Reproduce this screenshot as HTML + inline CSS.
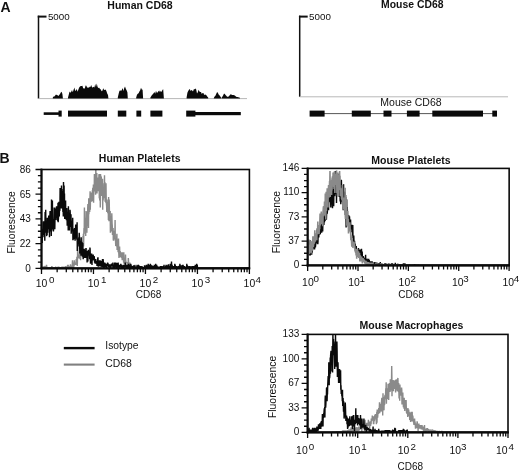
<!DOCTYPE html>
<html><head><meta charset="utf-8"><title>CD68 figure</title>
<style>
html,body{margin:0;padding:0;background:#fff;}
body{width:520px;height:470px;overflow:hidden;}
svg{display:block;}
svg text{font-family:"Liberation Sans", Arial, sans-serif;fill:#111;}
</style></head><body>
<svg width="520" height="470" viewBox="0 0 520 470">
<rect width="520" height="470" fill="#fff"/>
<text x="0.6" y="11.6" font-size="14" font-weight="bold" text-anchor="start">A</text>
<text x="140" y="9.3" font-size="10.5" font-weight="bold" text-anchor="middle">Human CD68</text>
<text x="412.3" y="8" font-size="10.4" font-weight="bold" text-anchor="middle">Mouse CD68</text>
<path d="M38.5 15.7V98.6" fill="none" stroke="#111" stroke-width="1.5"/>
<path d="M37.75 16.6H46.5" fill="none" stroke="#111" stroke-width="2"/>
<line x1="38.5" y1="98.6" x2="247" y2="98.6" stroke="#b8b8b8" stroke-width="1"/>
<text x="47.9" y="19.9" font-size="9.8" text-anchor="start">5000</text>
<path d="M299.7 15.7V96.8" fill="none" stroke="#111" stroke-width="1.5"/>
<path d="M298.95 16.6H307.7" fill="none" stroke="#111" stroke-width="2"/>
<line x1="299.7" y1="96.8" x2="508" y2="96.8" stroke="#b8b8b8" stroke-width="1"/>
<text x="309.09999999999997" y="19.9" font-size="9.8" text-anchor="start">5000</text>
<path d="M52.8 98.6 L52.8 97.4 L53.6 96.6 L54.4 96.5 L55.2 95.6 L56.0 94.6 L56.8 95.0 L57.6 95.2 L58.4 95.9 L59.2 95.1 L60.0 93.9 L60.8 92.4 L61.6 91.8 L62.4 94.1 L62.9 98.6Z" fill="#0a0a0a"/>
<path d="M68.0 98.6 L68.0 97.6 L68.8 94.6 L69.6 91.6 L70.4 92.7 L71.2 91.8 L72.0 90.1 L72.8 92.3 L73.6 89.7 L74.4 87.6 L75.2 90.9 L76.0 90.2 L76.8 89.0 L77.6 91.7 L78.4 89.5 L79.2 87.6 L80.0 86.6 L80.8 86.0 L81.6 86.1 L82.4 85.7 L83.2 88.2 L84.0 88.5 L84.8 88.4 L85.6 85.5 L86.4 85.7 L87.2 88.1 L88.0 87.0 L88.8 88.1 L89.6 86.8 L90.4 87.0 L91.2 85.1 L92.0 87.2 L92.8 87.4 L93.6 86.8 L94.4 87.4 L95.2 84.0 L96.0 87.0 L96.8 83.4 L97.6 86.9 L98.4 88.1 L99.2 87.8 L100.0 88.9 L100.8 89.5 L101.6 91.3 L102.4 90.8 L103.2 88.2 L104.0 89.8 L104.8 89.9 L105.6 89.6 L106.4 91.0 L107.2 93.4 L108.0 94.9 L108.4 98.6Z" fill="#0a0a0a"/>
<path d="M117.8 98.6 L117.8 97.4 L118.6 94.0 L119.4 90.9 L120.2 90.2 L121.0 90.9 L121.8 90.0 L122.6 88.0 L123.4 90.9 L124.2 88.2 L125.0 86.6 L125.8 88.7 L126.6 90.3 L127.4 92.2 L127.8 98.6Z" fill="#0a0a0a"/>
<path d="M136.2 98.6 L136.2 97.5 L137.0 94.7 L137.8 93.8 L138.6 93.2 L139.4 91.5 L140.2 90.3 L141.0 87.8 L141.8 89.4 L142.6 89.8 L143.1 98.6Z" fill="#0a0a0a"/>
<path d="M150.4 98.6 L150.4 97.6 L151.2 96.3 L152.0 94.9 L152.8 94.3 L153.6 93.2 L154.4 92.1 L155.2 93.7 L156.0 90.8 L156.8 92.7 L157.6 92.4 L158.4 91.2 L159.2 90.5 L160.0 92.2 L160.8 90.8 L161.6 92.0 L162.4 90.1 L163.2 89.3 L163.9 98.6Z" fill="#0a0a0a"/>
<path d="M186.6 98.6 L186.6 97.4 L187.4 92.7 L188.2 91.0 L189.0 89.8 L189.8 88.9 L190.6 91.0 L191.4 90.1 L192.2 90.4 L193.0 91.4 L193.8 89.3 L194.6 89.3 L195.4 88.6 L196.2 89.6 L197.0 93.4 L197.8 92.2 L198.6 89.8 L199.4 91.6 L200.2 92.0 L201.0 91.9 L201.8 93.9 L202.6 92.9 L203.4 93.0 L204.2 94.9 L205.0 94.6 L205.8 94.8 L206.6 95.4 L207.4 96.8 L208.2 97.5 L208.2 98.6Z" fill="#0a0a0a"/>
<path d="M213.8 98.6 L213.8 97.9 L214.6 96.6 L215.4 95.7 L216.2 94.1 L217.0 92.2 L217.8 92.4 L218.6 94.5 L219.4 95.3 L220.2 96.3 L221.0 97.4 L221.0 98.6Z" fill="#0a0a0a"/>
<path d="M221.5 98.6 L221.5 97.8 L222.3 96.7 L223.1 95.4 L223.9 93.7 L224.7 93.7 L225.5 95.0 L226.3 95.8 L227.1 96.7 L227.9 96.8 L228.7 96.4 L229.5 95.5 L230.3 94.6 L231.1 94.3 L231.9 94.9 L232.7 94.9 L233.5 95.1 L234.3 95.2 L235.1 95.7 L235.9 96.5 L236.7 96.9 L237.5 96.9 L238.3 97.2 L239.1 97.5 L239.9 97.7 L240.0 98.6Z" fill="#0a0a0a"/>
<rect x="43.7" y="112.3" width="15.3" height="2.6" fill="#0a0a0a"/>
<rect x="58.5" y="110.6" width="3.2" height="6.0" fill="#0a0a0a"/>
<rect x="68" y="110.6" width="39.0" height="6.0" fill="#0a0a0a"/>
<rect x="117.8" y="110.6" width="8.5" height="6.0" fill="#0a0a0a"/>
<rect x="136.4" y="110.6" width="4.8" height="6.0" fill="#0a0a0a"/>
<rect x="150.4" y="110.6" width="12.0" height="6.0" fill="#0a0a0a"/>
<rect x="186.2" y="110.6" width="9.2" height="6.0" fill="#0a0a0a"/>
<rect x="195" y="112.0" width="45.8" height="3.2" fill="#0a0a0a"/>
<text x="411" y="105.6" font-size="10.5" text-anchor="middle">Mouse CD68</text>
<line x1="310" y1="113.6" x2="497" y2="113.6" stroke="#444" stroke-width="0.9"/>
<rect x="309.6" y="110.6" width="15.0" height="6.0" fill="#0a0a0a"/>
<rect x="351.8" y="110.6" width="19.0" height="6.0" fill="#0a0a0a"/>
<rect x="383.5" y="110.6" width="8.0" height="6.0" fill="#0a0a0a"/>
<rect x="406.9" y="110.6" width="12.7" height="6.0" fill="#0a0a0a"/>
<rect x="432.3" y="110.6" width="50.7" height="6.0" fill="#0a0a0a"/>
<rect x="492.3" y="110.6" width="4.7" height="6.0" fill="#0a0a0a"/>
<text x="-0.4" y="163.0" font-size="14" font-weight="bold" text-anchor="start">B</text>
<path d="M41.6 268.3 L41.8 268.3 L42.0 268.3 L42.2 268.3 L42.4 268.3 L42.6 267.2 L42.8 267.2 L43.0 268.3 L43.2 268.3 L43.4 267.2 L43.6 267.2 L43.8 267.2 L44.0 267.2 L44.2 266.0 L44.4 268.3 L44.6 267.2 L44.8 267.2 L45.1 266.0 L45.3 268.3 L45.5 268.3 L45.7 267.2 L45.9 267.2 L46.1 268.3 L46.3 267.2 L46.5 264.9 L46.7 266.0 L46.9 268.3 L47.1 268.3 L47.3 267.2 L47.5 268.3 L47.7 268.3 L47.9 268.3 L48.1 267.2 L48.3 268.3 L48.5 268.3 L48.7 268.3 L48.9 268.3 L49.1 268.3 L49.3 267.2 L49.5 268.3 L49.7 268.3 L49.9 267.2 L50.1 268.3 L50.3 267.2 L50.5 268.3 L50.7 267.2 L50.9 268.3 L51.1 268.3 L51.3 267.2 L51.5 268.3 L51.8 266.0 L52.0 267.2 L52.2 267.2 L52.4 268.3 L52.6 268.3 L52.8 267.2 L53.0 268.3 L53.2 267.2 L53.4 268.3 L53.6 268.3 L53.8 268.3 L54.0 268.3 L54.2 268.3 L54.4 268.3 L54.6 268.3 L54.8 267.2 L55.0 268.3 L55.2 268.3 L55.4 268.3 L55.6 267.2 L55.8 267.2 L56.0 268.3 L56.2 267.2 L56.4 268.3 L56.6 268.3 L56.8 268.3 L57.0 267.2 L57.2 268.3 L57.4 268.3 L57.6 267.2 L57.8 268.3 L58.0 267.2 L58.2 267.2 L58.5 267.2 L58.7 267.2 L58.9 267.2 L59.1 268.3 L59.3 267.2 L59.5 268.3 L59.7 268.3 L59.9 267.2 L60.1 268.3 L60.3 268.3 L60.5 267.2 L60.7 268.3 L60.9 267.2 L61.1 268.3 L61.3 268.3 L61.5 268.3 L61.7 268.3 L61.9 267.2 L62.1 267.2 L62.3 268.3 L62.5 267.2 L62.7 267.2 L62.9 268.3 L63.1 267.2 L63.3 267.2 L63.5 268.3 L63.7 268.3 L63.9 267.2 L64.1 268.3 L64.3 267.2 L64.5 268.3 L64.7 267.2 L64.9 267.2 L65.2 267.2 L65.4 267.2 L65.6 268.3 L65.8 266.0 L66.0 267.2 L66.2 267.2 L66.4 268.3 L66.6 268.3 L66.8 267.2 L67.0 267.2 L67.2 267.2 L67.4 268.3 L67.6 264.9 L67.8 267.2 L68.0 268.3 L68.2 264.9 L68.4 268.3 L68.6 268.3 L68.8 267.2 L69.0 266.0 L69.2 267.2 L69.4 267.2 L69.6 266.0 L69.8 267.2 L70.0 268.3 L70.2 266.0 L70.4 264.9 L70.6 264.9 L70.8 268.3 L71.0 267.2 L71.2 267.2 L71.4 267.2 L71.6 267.2 L71.9 266.0 L72.1 267.2 L72.3 264.9 L72.5 260.3 L72.7 264.9 L72.9 268.3 L73.1 266.0 L73.3 262.6 L73.5 263.7 L73.7 268.3 L73.9 263.7 L74.1 266.0 L74.3 260.3 L74.5 263.7 L74.7 264.9 L74.9 263.7 L75.1 263.7 L75.3 263.7 L75.5 263.7 L75.7 262.6 L75.9 264.9 L76.1 261.4 L76.3 259.1 L76.5 261.4 L76.7 262.6 L76.9 256.8 L77.1 262.6 L77.3 266.0 L77.5 258.0 L77.7 241.9 L77.9 256.8 L78.1 256.8 L78.3 255.7 L78.6 258.0 L78.8 254.5 L79.0 255.7 L79.2 258.0 L79.4 258.0 L79.6 252.2 L79.8 253.4 L80.0 252.2 L80.2 252.2 L80.4 258.0 L80.6 260.3 L80.8 245.3 L81.0 247.6 L81.2 245.3 L81.4 252.2 L81.6 246.5 L81.8 241.9 L82.0 244.2 L82.2 247.6 L82.4 240.7 L82.6 248.8 L82.8 246.5 L83.0 236.1 L83.2 245.3 L83.4 233.8 L83.6 246.5 L83.8 233.8 L84.0 228.1 L84.2 233.8 L84.4 207.4 L84.6 228.1 L84.8 226.9 L85.0 224.6 L85.3 217.8 L85.5 221.2 L85.7 236.1 L85.9 225.8 L86.1 210.9 L86.3 224.6 L86.5 228.1 L86.7 223.5 L86.9 232.7 L87.1 212.0 L87.3 218.9 L87.5 225.8 L87.7 208.6 L87.9 204.0 L88.1 213.2 L88.3 209.7 L88.5 228.1 L88.7 198.2 L88.9 214.3 L89.1 208.6 L89.3 202.8 L89.5 201.7 L89.7 212.0 L89.9 200.5 L90.1 191.3 L90.3 209.7 L90.5 197.1 L90.7 193.6 L90.9 198.2 L91.1 193.6 L91.3 192.5 L91.5 201.7 L91.7 200.5 L92.0 200.5 L92.2 200.5 L92.4 190.2 L92.6 191.3 L92.8 187.9 L93.0 192.5 L93.2 195.9 L93.4 184.4 L93.6 202.8 L93.8 187.9 L94.0 190.2 L94.2 191.3 L94.4 174.1 L94.6 182.1 L94.8 184.4 L95.0 182.1 L95.2 187.9 L95.4 187.9 L95.6 194.8 L95.8 169.5 L96.0 174.1 L96.2 190.2 L96.4 176.4 L96.6 179.8 L96.8 172.9 L97.0 193.6 L97.2 181.0 L97.4 190.2 L97.6 177.5 L97.8 181.0 L98.0 191.3 L98.2 177.5 L98.4 190.2 L98.7 186.7 L98.9 175.2 L99.1 174.1 L99.3 198.2 L99.5 194.8 L99.7 200.5 L99.9 185.6 L100.1 176.4 L100.3 207.4 L100.5 174.1 L100.7 176.4 L100.9 185.6 L101.1 189.0 L101.3 176.4 L101.5 195.9 L101.7 185.6 L101.9 178.7 L102.1 193.6 L102.3 189.0 L102.5 178.7 L102.7 209.7 L102.9 183.3 L103.1 200.5 L103.3 197.1 L103.5 189.0 L103.7 194.8 L103.9 192.5 L104.1 198.2 L104.3 192.5 L104.5 175.2 L104.7 197.1 L104.9 182.1 L105.1 201.7 L105.4 191.3 L105.6 192.5 L105.8 202.8 L106.0 183.3 L106.2 198.2 L106.4 204.0 L106.6 206.3 L106.8 212.0 L107.0 199.4 L107.2 210.9 L107.4 204.0 L107.6 207.4 L107.8 213.2 L108.0 210.9 L108.2 201.7 L108.4 220.0 L108.6 197.1 L108.8 209.7 L109.0 221.2 L109.2 199.4 L109.4 209.7 L109.6 213.2 L109.8 214.3 L110.0 217.8 L110.2 210.9 L110.4 232.7 L110.6 218.9 L110.8 216.6 L111.0 221.2 L111.2 224.6 L111.4 231.5 L111.6 222.3 L111.8 213.2 L112.1 223.5 L112.3 225.8 L112.5 235.0 L112.7 229.2 L112.9 231.5 L113.1 228.1 L113.3 239.6 L113.5 240.7 L113.7 231.5 L113.9 231.5 L114.1 233.8 L114.3 232.7 L114.5 233.8 L114.7 239.6 L114.9 230.4 L115.1 220.0 L115.3 240.7 L115.5 239.6 L115.7 245.3 L115.9 245.3 L116.1 241.9 L116.3 244.2 L116.5 246.5 L116.7 237.3 L116.9 233.8 L117.1 249.9 L117.3 244.2 L117.5 246.5 L117.7 240.7 L117.9 239.6 L118.1 252.2 L118.3 244.2 L118.5 238.4 L118.8 253.4 L119.0 258.0 L119.2 255.7 L119.4 251.1 L119.6 246.5 L119.8 254.5 L120.0 256.8 L120.2 251.1 L120.4 256.8 L120.6 252.2 L120.8 256.8 L121.0 256.8 L121.2 252.2 L121.4 255.7 L121.6 253.4 L121.8 258.0 L122.0 256.8 L122.2 260.3 L122.4 258.0 L122.6 252.2 L122.8 256.8 L123.0 256.8 L123.2 255.7 L123.4 256.8 L123.6 262.6 L123.8 252.2 L124.0 263.7 L124.2 260.3 L124.4 261.4 L124.6 258.0 L124.8 261.4 L125.0 263.7 L125.2 261.4 L125.5 254.5 L125.7 260.3 L125.9 261.4 L126.1 262.6 L126.3 262.6 L126.5 262.6 L126.7 262.6 L126.9 262.6 L127.1 262.6 L127.3 266.0 L127.5 263.7 L127.7 267.2 L127.9 262.6 L128.1 268.3 L128.3 258.0 L128.5 260.3 L128.7 264.9 L128.9 263.7 L129.1 263.7 L129.3 267.2 L129.5 263.7 L129.7 267.2 L129.9 262.6 L130.1 268.3 L130.3 267.2 L130.5 267.2 L130.7 264.9 L130.9 264.9 L131.1 266.0 L131.3 266.0 L131.5 266.0 L131.7 266.0 L131.9 267.2 L132.2 268.3 L132.4 267.2 L132.6 266.0 L132.8 267.2 L133.0 268.3 L133.2 266.0 L133.4 268.3 L133.6 268.3 L133.8 266.0 L134.0 266.0 L134.2 267.2 L134.4 268.3 L134.6 268.3 L134.8 264.9 L135.0 267.2 L135.2 268.3 L135.4 268.3 L135.6 266.0 L135.8 266.0 L136.0 268.3 L136.2 267.2 L136.4 264.9 L136.6 268.3 L136.8 266.0 L137.0 268.3 L137.2 267.2 L137.4 268.3 L137.6 268.3 L137.8 266.0 L138.0 264.9 L138.2 268.3 L138.4 268.3 L138.6 268.3 L138.9 268.3 L139.1 268.3 L139.3 268.3 L139.5 266.0 L139.7 268.3 L139.9 267.2 L140.1 268.3 L140.3 268.3 L140.5 267.2 L140.7 268.3 L140.9 268.3 L141.1 268.3 L141.3 268.3 L141.5 266.0 L141.7 268.3 L141.9 267.2 L142.1 268.3 L142.3 268.3 L142.5 268.3 L142.7 268.3 L142.9 268.3 L143.1 268.3 L143.3 267.2 L143.5 268.3 L143.7 268.3 L143.9 268.3 L144.1 268.3 L144.3 268.3 L144.5 268.3 L144.7 268.3 L144.9 268.3 L145.1 268.3 L145.3 268.3 L145.6 268.3 L145.8 268.3 L146.0 268.3 L146.2 268.3 L146.4 268.3 L146.6 268.3 L146.8 268.3 L147.0 267.2 L147.2 268.3 L147.4 268.3 L147.6 267.2 L147.8 268.3 L148.0 268.3 L148.2 268.3 L148.4 268.3 L148.6 268.3 L148.8 267.2 L149.0 268.3 L149.2 268.3 L149.4 268.3 L149.6 268.3 L149.8 268.3 L150.0 268.3 L150.2 268.3 L150.4 268.3 L150.6 268.3 L150.8 268.3 L151.0 268.3 L151.2 268.3 L151.4 268.3 L151.6 268.3 L151.8 268.3 L152.0 268.3 L152.3 268.3 L152.5 268.3 L152.7 268.3 L152.9 268.3 L153.1 268.3 L153.3 268.3 L153.5 268.3 L153.7 268.3 L153.9 268.3 L154.1 268.3 L154.3 268.3 L154.5 268.3 L154.7 268.3 L154.9 268.3 L155.1 268.3 L155.3 268.3 L155.5 268.3 L155.7 268.3 L155.9 268.3 L156.1 268.3 L156.3 268.3 L156.5 268.3 L156.7 268.3 L156.9 268.3 L157.1 268.3 L157.3 268.3 L157.5 268.3 L157.7 268.3 L157.9 268.3 L158.1 268.3 L158.3 268.3 L158.5 268.3 L158.7 268.3 L159.0 268.3 L159.2 268.3 L159.4 268.3 L159.6 268.3 L159.8 268.3 L160.0 268.3 L160.2 268.3 L160.4 268.3 L160.6 268.3 L160.8 268.3 L161.0 268.3 L161.2 268.3 L161.4 268.3 L161.6 268.3 L161.8 268.3 L162.0 268.3 L162.2 268.3 L162.4 268.3 L162.6 268.3 L162.8 268.3 L163.0 268.3 L163.2 268.3 L163.4 268.3 L163.6 268.3 L163.8 268.3 L164.0 268.3 L164.2 268.3 L164.4 268.3 L164.6 268.3 L164.8 268.3 L165.0 268.3 L165.2 268.3 L165.4 268.3 L165.7 268.3 L165.9 268.3 L166.1 268.3 L166.3 268.3 L166.5 268.3 L166.7 268.3 L166.9 268.3 L167.1 268.3 L167.3 268.3 L167.5 268.3 L167.7 268.3 L167.9 268.3 L168.1 268.3 L168.3 268.3 L168.5 268.3 L168.7 268.3 L168.9 268.3 L169.1 268.3 L169.3 268.3 L169.5 268.3 L169.7 268.3 L169.9 268.3 L170.1 268.3 L170.3 268.3 L170.5 268.3 L170.7 268.3 L170.9 268.3 L171.1 268.3 L171.3 268.3 L171.5 268.3 L171.7 268.3 L171.9 268.3 L172.1 268.3 L172.4 268.3 L172.6 268.3 L172.8 268.3 L173.0 268.3 L173.2 268.3 L173.4 268.3 L173.6 268.3 L173.8 268.3 L174.0 268.3 L174.2 268.3 L174.4 268.3 L174.6 268.3 L174.8 268.3 L175.0 268.3 L175.2 268.3 L175.4 268.3 L175.6 268.3 L175.8 268.3 L176.0 268.3 L176.2 268.3 L176.4 268.3 L176.6 268.3 L176.8 268.3 L177.0 268.3 L177.2 268.3 L177.4 268.3 L177.6 268.3 L177.8 268.3 L178.0 268.3 L178.2 268.3 L178.4 268.3 L178.6 268.3 L178.8 268.3 L179.1 268.3 L179.3 268.3 L179.5 268.3 L179.7 268.3 L179.9 268.3 L180.1 268.3 L180.3 268.3 L180.5 268.3 L180.7 268.3 L180.9 268.3 L181.1 268.3 L181.3 268.3 L181.5 268.3 L181.7 268.3 L181.9 268.3 L182.1 268.3 L182.3 268.3 L182.5 268.3 L182.7 268.3 L182.9 268.3 L183.1 268.3 L183.3 268.3 L183.5 268.3 L183.7 268.3 L183.9 268.3 L184.1 268.3 L184.3 268.3 L184.5 268.3 L184.7 268.3 L184.9 268.3 L185.1 268.3 L185.3 268.3 L185.5 268.3 L185.8 268.3 L186.0 268.3 L186.2 268.3 L186.4 268.3 L186.6 268.3 L186.8 268.3 L187.0 268.3 L187.2 268.3 L187.4 268.3 L187.6 268.3 L187.8 268.3 L188.0 268.3 L188.2 268.3 L188.4 268.3 L188.6 268.3 L188.8 268.3 L189.0 268.3 L189.2 268.3 L189.4 268.3 L189.6 268.3 L189.8 268.3 L190.0 268.3 L190.2 268.3 L190.4 268.3 L190.6 268.3 L190.8 268.3 L191.0 268.3 L191.2 268.3 L191.4 268.3 L191.6 268.3 L191.8 268.3 L192.0 268.3 L192.2 268.3 L192.5 268.3 L192.7 268.3 L192.9 268.3 L193.1 268.3 L193.3 268.3 L193.5 268.3 L193.7 268.3 L193.9 268.3 L194.1 268.3 L194.3 268.3 L194.5 268.3 L194.7 268.3 L194.9 268.3 L195.1 268.3 L195.3 268.3 L195.5 268.3 L195.7 268.3 L195.9 268.3 L196.1 268.3 L196.3 268.3 L196.5 268.3 L196.7 268.3 L196.9 268.3 L197.1 268.3 L197.3 268.3 L197.5 268.3 L197.7 268.3 L197.9 268.3 L198.1 268.3 L198.3 268.3 L198.5 268.3 L198.7 268.3 L198.9 268.3 L199.2 268.3 L199.4 268.3 L199.6 268.3 L199.8 268.3 L200.0 268.3 L200.2 268.3 L200.4 268.3 L200.6 268.3 L200.8 268.3 L201.0 268.3 L201.2 268.3 L201.4 268.3 L201.6 268.3 L201.8 268.3 L202.0 268.3 L202.2 268.3 L202.4 268.3 L202.6 268.3 L202.8 268.3 L203.0 268.3 L203.2 268.3 L203.4 268.3 L203.6 268.3 L203.8 268.3 L204.0 268.3 L204.2 268.3 L204.4 268.3 L204.6 268.3 L204.8 268.3 L205.0 268.3 L205.2 268.3 L205.4 268.3 L205.6 268.3 L205.9 268.3 L206.1 268.3 L206.3 268.3 L206.5 268.3 L206.7 268.3 L206.9 268.3 L207.1 268.3 L207.3 268.3 L207.5 268.3 L207.7 268.3 L207.9 268.3 L208.1 268.3 L208.3 268.3 L208.5 268.3 L208.7 268.3 L208.9 268.3 L209.1 268.3 L209.3 268.3 L209.5 268.3 L209.7 268.3 L209.9 268.3 L210.1 268.3 L210.3 268.3 L210.5 268.3 L210.7 268.3 L210.9 268.3 L211.1 268.3 L211.3 268.3 L211.5 268.3 L211.7 268.3 L211.9 268.3 L212.1 268.3 L212.3 268.3 L212.6 268.3 L212.8 268.3 L213.0 268.3 L213.2 268.3 L213.4 268.3 L213.6 268.3 L213.8 268.3 L214.0 268.3 L214.2 268.3 L214.4 268.3 L214.6 268.3 L214.8 268.3 L215.0 268.3 L215.2 268.3 L215.4 268.3 L215.6 268.3 L215.8 268.3 L216.0 268.3 L216.2 268.3 L216.4 268.3 L216.6 268.3 L216.8 268.3 L217.0 268.3 L217.2 268.3 L217.4 268.3 L217.6 268.3 L217.8 268.3 L218.0 268.3 L218.2 268.3 L218.4 268.3 L218.6 268.3 L218.8 268.3 L219.0 268.3 L219.3 268.3 L219.5 268.3 L219.7 268.3 L219.9 268.3 L220.1 268.3 L220.3 268.3 L220.5 268.3 L220.7 268.3 L220.9 268.3 L221.1 268.3 L221.3 268.3 L221.5 268.3 L221.7 268.3 L221.9 268.3 L222.1 268.3 L222.3 268.3 L222.5 268.3 L222.7 268.3 L222.9 268.3 L223.1 268.3 L223.3 268.3 L223.5 268.3 L223.7 268.3 L223.9 268.3 L224.1 268.3 L224.3 268.3 L224.5 268.3 L224.7 268.3 L224.9 268.3 L225.1 268.3 L225.3 268.3 L225.5 268.3 L225.7 268.3 L226.0 268.3 L226.2 268.3 L226.4 268.3 L226.6 268.3 L226.8 268.3 L227.0 268.3 L227.2 268.3 L227.4 268.3 L227.6 268.3 L227.8 268.3 L228.0 268.3 L228.2 268.3 L228.4 268.3 L228.6 268.3 L228.8 268.3 L229.0 268.3 L229.2 268.3 L229.4 268.3 L229.6 268.3 L229.8 268.3 L230.0 268.3 L230.2 268.3 L230.4 268.3 L230.6 268.3 L230.8 268.3 L231.0 268.3 L231.2 268.3 L231.4 268.3 L231.6 268.3 L231.8 268.3 L232.0 268.3 L232.2 268.3 L232.4 268.3 L232.7 268.3 L232.9 268.3 L233.1 268.3 L233.3 268.3 L233.5 268.3 L233.7 268.3 L233.9 268.3 L234.1 268.3 L234.3 268.3 L234.5 268.3 L234.7 268.3 L234.9 268.3 L235.1 268.3 L235.3 268.3 L235.5 268.3 L235.7 268.3 L235.9 268.3 L236.1 268.3 L236.3 268.3 L236.5 268.3 L236.7 268.3 L236.9 268.3 L237.1 268.3 L237.3 268.3 L237.5 268.3 L237.7 268.3 L237.9 268.3 L238.1 268.3 L238.3 268.3 L238.5 268.3 L238.7 268.3 L238.9 268.3 L239.1 268.3 L239.4 268.3 L239.6 268.3 L239.8 268.3 L240.0 268.3 L240.2 268.3 L240.4 268.3 L240.6 268.3 L240.8 268.3 L241.0 268.3 L241.2 268.3 L241.4 268.3 L241.6 268.3 L241.8 268.3 L242.0 268.3 L242.2 268.3 L242.4 268.3 L242.6 268.3 L242.8 268.3 L243.0 268.3 L243.2 268.3 L243.4 268.3 L243.6 268.3 L243.8 268.3 L244.0 268.3 L244.2 268.3 L244.4 268.3 L244.6 268.3 L244.8 268.3 L245.0 268.3 L245.2 268.3 L245.4 268.3 L245.6 268.3 L245.8 268.3 L246.1 268.3 L246.3 268.3 L246.5 268.3 L246.7 268.3 L246.9 268.3 L247.1 268.3 L247.3 268.3 L247.5 268.3 L247.7 268.3 L247.9 268.3 L248.1 268.3 L248.3 268.3 L248.5 268.3 L248.7 268.3 L248.9 268.3 L249.1 268.3 L249.3 268.3" fill="none" stroke="#8a8a8a" stroke-width="1.4" stroke-linejoin="miter" stroke-miterlimit="2"/>
<path d="M41.6 222.3 L41.8 222.3 L42.0 235.0 L42.2 243.0 L42.4 231.5 L42.6 229.2 L42.8 233.8 L43.0 237.3 L43.2 232.7 L43.4 235.0 L43.6 221.2 L43.8 231.5 L44.0 229.2 L44.2 228.1 L44.4 230.4 L44.6 225.8 L44.8 240.7 L45.1 212.0 L45.3 231.5 L45.5 222.3 L45.7 209.7 L45.9 224.6 L46.1 223.5 L46.3 232.7 L46.5 231.5 L46.7 236.1 L46.9 225.8 L47.1 235.0 L47.3 217.8 L47.5 230.4 L47.7 232.7 L47.9 222.3 L48.1 223.5 L48.3 229.2 L48.5 224.6 L48.7 215.5 L48.9 220.0 L49.1 216.6 L49.3 223.5 L49.5 237.3 L49.7 225.8 L49.9 216.6 L50.1 210.9 L50.3 231.5 L50.5 216.6 L50.7 224.6 L50.9 224.6 L51.1 217.8 L51.3 236.1 L51.5 199.4 L51.8 229.2 L52.0 208.6 L52.2 213.2 L52.4 200.5 L52.6 223.5 L52.8 218.9 L53.0 230.4 L53.2 228.1 L53.4 231.5 L53.6 229.2 L53.8 220.0 L54.0 221.2 L54.2 207.4 L54.4 215.5 L54.6 207.4 L54.8 229.2 L55.0 217.8 L55.2 208.6 L55.4 213.2 L55.6 209.7 L55.8 216.6 L56.0 220.0 L56.2 215.5 L56.4 207.4 L56.6 206.3 L56.8 210.9 L57.0 217.8 L57.2 213.2 L57.4 207.4 L57.6 221.2 L57.8 216.6 L58.0 202.8 L58.2 222.3 L58.5 216.6 L58.7 208.6 L58.9 201.7 L59.1 214.3 L59.3 216.6 L59.5 208.6 L59.7 206.3 L59.9 210.9 L60.1 187.9 L60.3 200.5 L60.5 208.6 L60.7 197.1 L60.9 199.4 L61.1 195.9 L61.3 195.9 L61.5 185.6 L61.7 208.6 L61.9 189.0 L62.1 202.8 L62.3 205.1 L62.5 191.3 L62.7 206.3 L62.9 212.0 L63.1 201.7 L63.3 216.6 L63.5 182.1 L63.7 190.2 L63.9 209.7 L64.1 185.6 L64.3 209.7 L64.5 193.6 L64.7 218.9 L64.9 212.0 L65.2 207.4 L65.4 207.4 L65.6 200.5 L65.8 218.9 L66.0 208.6 L66.2 218.9 L66.4 220.0 L66.6 208.6 L66.8 208.6 L67.0 214.3 L67.2 225.8 L67.4 218.9 L67.6 218.9 L67.8 223.5 L68.0 213.2 L68.2 230.4 L68.4 206.3 L68.6 216.6 L68.8 220.0 L69.0 217.8 L69.2 218.9 L69.4 230.4 L69.6 220.0 L69.8 221.2 L70.0 209.7 L70.2 212.0 L70.4 224.6 L70.6 223.5 L70.8 226.9 L71.0 214.3 L71.2 233.8 L71.4 228.1 L71.6 223.5 L71.9 225.8 L72.1 231.5 L72.3 225.8 L72.5 221.2 L72.7 217.8 L72.9 239.6 L73.1 239.6 L73.3 238.4 L73.5 230.4 L73.7 230.4 L73.9 233.8 L74.1 229.2 L74.3 232.7 L74.5 228.1 L74.7 238.4 L74.9 238.4 L75.1 240.7 L75.3 235.0 L75.5 229.2 L75.7 224.6 L75.9 238.4 L76.1 232.7 L76.3 226.9 L76.5 228.1 L76.7 236.1 L76.9 239.6 L77.1 222.3 L77.3 251.1 L77.5 239.6 L77.7 244.2 L77.9 238.4 L78.1 246.5 L78.3 239.6 L78.6 244.2 L78.8 237.3 L79.0 240.7 L79.2 232.7 L79.4 236.1 L79.6 239.6 L79.8 253.4 L80.0 247.6 L80.2 240.7 L80.4 241.9 L80.6 246.5 L80.8 248.8 L81.0 255.7 L81.2 237.3 L81.4 251.1 L81.6 241.9 L81.8 251.1 L82.0 241.9 L82.2 253.4 L82.4 256.8 L82.6 248.8 L82.8 243.0 L83.0 255.7 L83.2 259.1 L83.4 255.7 L83.6 258.0 L83.8 252.2 L84.0 253.4 L84.2 248.8 L84.4 254.5 L84.6 258.0 L84.8 254.5 L85.0 249.9 L85.3 258.0 L85.5 253.4 L85.7 253.4 L85.9 248.8 L86.1 248.8 L86.3 258.0 L86.5 251.1 L86.7 255.7 L86.9 253.4 L87.1 262.6 L87.3 256.8 L87.5 256.8 L87.7 251.1 L87.9 261.4 L88.1 252.2 L88.3 249.9 L88.5 253.4 L88.7 254.5 L88.9 252.2 L89.1 252.2 L89.3 254.5 L89.5 255.7 L89.7 259.1 L89.9 247.6 L90.1 248.8 L90.3 256.8 L90.5 263.7 L90.7 253.4 L90.9 261.4 L91.1 254.5 L91.3 255.7 L91.5 260.3 L91.7 253.4 L92.0 264.9 L92.2 255.7 L92.4 256.8 L92.6 256.8 L92.8 260.3 L93.0 259.1 L93.2 254.5 L93.4 258.0 L93.6 258.0 L93.8 260.3 L94.0 256.8 L94.2 256.8 L94.4 258.0 L94.6 262.6 L94.8 261.4 L95.0 260.3 L95.2 263.7 L95.4 261.4 L95.6 259.1 L95.8 261.4 L96.0 261.4 L96.2 263.7 L96.4 261.4 L96.6 262.6 L96.8 261.4 L97.0 266.0 L97.2 262.6 L97.4 262.6 L97.6 259.1 L97.8 258.0 L98.0 258.0 L98.2 266.0 L98.4 266.0 L98.7 266.0 L98.9 266.0 L99.1 263.7 L99.3 264.9 L99.5 260.3 L99.7 263.7 L99.9 266.0 L100.1 260.3 L100.3 266.0 L100.5 261.4 L100.7 261.4 L100.9 266.0 L101.1 266.0 L101.3 262.6 L101.5 261.4 L101.7 261.4 L101.9 266.0 L102.1 267.2 L102.3 266.0 L102.5 259.1 L102.7 262.6 L102.9 267.2 L103.1 259.1 L103.3 261.4 L103.5 263.7 L103.7 263.7 L103.9 268.3 L104.1 267.2 L104.3 263.7 L104.5 264.9 L104.7 262.6 L104.9 263.7 L105.1 263.7 L105.4 267.2 L105.6 266.0 L105.8 263.7 L106.0 266.0 L106.2 264.9 L106.4 267.2 L106.6 267.2 L106.8 266.0 L107.0 266.0 L107.2 264.9 L107.4 263.7 L107.6 262.6 L107.8 263.7 L108.0 263.7 L108.2 264.9 L108.4 264.9 L108.6 267.2 L108.8 266.0 L109.0 267.2 L109.2 266.0 L109.4 266.0 L109.6 264.9 L109.8 264.9 L110.0 268.3 L110.2 267.2 L110.4 267.2 L110.6 267.2 L110.8 266.0 L111.0 264.9 L111.2 266.0 L111.4 263.7 L111.6 264.9 L111.8 263.7 L112.1 266.0 L112.3 266.0 L112.5 266.0 L112.7 266.0 L112.9 262.6 L113.1 266.0 L113.3 268.3 L113.5 268.3 L113.7 266.0 L113.9 264.9 L114.1 267.2 L114.3 267.2 L114.5 264.9 L114.7 262.6 L114.9 267.2 L115.1 262.6 L115.3 264.9 L115.5 266.0 L115.7 267.2 L115.9 262.6 L116.1 267.2 L116.3 267.2 L116.5 268.3 L116.7 263.7 L116.9 263.7 L117.1 268.3 L117.3 267.2 L117.5 266.0 L117.7 264.9 L117.9 266.0 L118.1 262.6 L118.3 264.9 L118.5 266.0 L118.8 267.2 L119.0 268.3 L119.2 267.2 L119.4 266.0 L119.6 264.9 L119.8 267.2 L120.0 266.0 L120.2 266.0 L120.4 267.2 L120.6 266.0 L120.8 263.7 L121.0 266.0 L121.2 267.2 L121.4 267.2 L121.6 264.9 L121.8 268.3 L122.0 267.2 L122.2 268.3 L122.4 268.3 L122.6 266.0 L122.8 266.0 L123.0 268.3 L123.2 267.2 L123.4 266.0 L123.6 264.9 L123.8 268.3 L124.0 267.2 L124.2 266.0 L124.4 267.2 L124.6 266.0 L124.8 266.0 L125.0 267.2 L125.2 262.6 L125.5 264.9 L125.7 267.2 L125.9 264.9 L126.1 267.2 L126.3 267.2 L126.5 266.0 L126.7 266.0 L126.9 268.3 L127.1 267.2 L127.3 266.0 L127.5 264.9 L127.7 266.0 L127.9 267.2 L128.1 268.3 L128.3 268.3 L128.5 268.3 L128.7 263.7 L128.9 267.2 L129.1 267.2 L129.3 267.2 L129.5 267.2 L129.7 267.2 L129.9 264.9 L130.1 267.2 L130.3 267.2 L130.5 266.0 L130.7 263.7 L130.9 266.0 L131.1 266.0 L131.3 267.2 L131.5 267.2 L131.7 268.3 L131.9 267.2 L132.2 267.2 L132.4 267.2 L132.6 266.0 L132.8 268.3 L133.0 267.2 L133.2 267.2 L133.4 267.2 L133.6 268.3 L133.8 266.0 L134.0 266.0 L134.2 268.3 L134.4 266.0 L134.6 266.0 L134.8 268.3 L135.0 267.2 L135.2 267.2 L135.4 268.3 L135.6 268.3 L135.8 267.2 L136.0 268.3 L136.2 267.2 L136.4 267.2 L136.6 267.2 L136.8 268.3 L137.0 267.2 L137.2 266.0 L137.4 266.0 L137.6 268.3 L137.8 268.3 L138.0 266.0 L138.2 268.3 L138.4 264.9 L138.6 266.0 L138.9 266.0 L139.1 268.3 L139.3 267.2 L139.5 268.3 L139.7 266.0 L139.9 268.3 L140.1 268.3 L140.3 266.0 L140.5 267.2 L140.7 268.3 L140.9 267.2 L141.1 268.3 L141.3 267.2 L141.5 267.2 L141.7 268.3 L141.9 266.0 L142.1 267.2 L142.3 268.3 L142.5 267.2 L142.7 268.3 L142.9 268.3 L143.1 268.3 L143.3 267.2 L143.5 268.3 L143.7 267.2 L143.9 268.3 L144.1 268.3 L144.3 267.2 L144.5 266.0 L144.7 266.0 L144.9 268.3 L145.1 267.2 L145.3 267.2 L145.6 267.2 L145.8 267.2 L146.0 268.3 L146.2 266.0 L146.4 264.9 L146.6 267.2 L146.8 266.0 L147.0 266.0 L147.2 268.3 L147.4 267.2 L147.6 267.2 L147.8 268.3 L148.0 266.0 L148.2 263.7 L148.4 267.2 L148.6 267.2 L148.8 268.3 L149.0 266.0 L149.2 267.2 L149.4 268.3 L149.6 264.9 L149.8 267.2 L150.0 268.3 L150.2 267.2 L150.4 263.7 L150.6 268.3 L150.8 264.9 L151.0 267.2 L151.2 266.0 L151.4 268.3 L151.6 266.0 L151.8 266.0 L152.0 266.0 L152.3 267.2 L152.5 268.3 L152.7 268.3 L152.9 266.0 L153.1 267.2 L153.3 268.3 L153.5 268.3 L153.7 266.0 L153.9 268.3 L154.1 268.3 L154.3 264.9 L154.5 266.0 L154.7 264.9 L154.9 266.0 L155.1 268.3 L155.3 268.3 L155.5 267.2 L155.7 263.7 L155.9 268.3 L156.1 268.3 L156.3 266.0 L156.5 266.0 L156.7 264.9 L156.9 268.3 L157.1 266.0 L157.3 268.3 L157.5 267.2 L157.7 267.2 L157.9 267.2 L158.1 268.3 L158.3 268.3 L158.5 267.2 L158.7 267.2 L159.0 267.2 L159.2 267.2 L159.4 268.3 L159.6 267.2 L159.8 267.2 L160.0 268.3 L160.2 268.3 L160.4 268.3 L160.6 266.0 L160.8 268.3 L161.0 266.0 L161.2 267.2 L161.4 267.2 L161.6 266.0 L161.8 268.3 L162.0 267.2 L162.2 267.2 L162.4 268.3 L162.6 267.2 L162.8 268.3 L163.0 268.3 L163.2 266.0 L163.4 267.2 L163.6 266.0 L163.8 268.3 L164.0 264.9 L164.2 268.3 L164.4 268.3 L164.6 268.3 L164.8 268.3 L165.0 267.2 L165.2 267.2 L165.4 268.3 L165.7 266.0 L165.9 267.2 L166.1 264.9 L166.3 268.3 L166.5 268.3 L166.7 268.3 L166.9 266.0 L167.1 268.3 L167.3 267.2 L167.5 266.0 L167.7 266.0 L167.9 266.0 L168.1 268.3 L168.3 264.9 L168.5 264.9 L168.7 267.2 L168.9 268.3 L169.1 268.3 L169.3 266.0 L169.5 268.3 L169.7 268.3 L169.9 268.3 L170.1 268.3 L170.3 263.7 L170.5 268.3 L170.7 267.2 L170.9 266.0 L171.1 267.2 L171.3 267.2 L171.5 261.4 L171.7 267.2 L171.9 267.2 L172.1 264.9 L172.4 268.3 L172.6 266.0 L172.8 268.3 L173.0 268.3 L173.2 268.3 L173.4 266.0 L173.6 267.2 L173.8 267.2 L174.0 267.2 L174.2 267.2 L174.4 268.3 L174.6 267.2 L174.8 263.7 L175.0 268.3 L175.2 264.9 L175.4 267.2 L175.6 268.3 L175.8 268.3 L176.0 268.3 L176.2 268.3 L176.4 268.3 L176.6 266.0 L176.8 268.3 L177.0 268.3 L177.2 267.2 L177.4 267.2 L177.6 268.3 L177.8 267.2 L178.0 267.2 L178.2 268.3 L178.4 266.0 L178.6 267.2 L178.8 267.2 L179.1 266.0 L179.3 267.2 L179.5 267.2 L179.7 267.2 L179.9 263.7 L180.1 266.0 L180.3 266.0 L180.5 266.0 L180.7 268.3 L180.9 267.2 L181.1 267.2 L181.3 267.2 L181.5 266.0 L181.7 266.0 L181.9 268.3 L182.1 268.3 L182.3 267.2 L182.5 268.3 L182.7 264.9 L182.9 268.3 L183.1 264.9 L183.3 268.3 L183.5 268.3 L183.7 267.2 L183.9 267.2 L184.1 267.2 L184.3 266.0 L184.5 267.2 L184.7 267.2 L184.9 267.2 L185.1 268.3 L185.3 268.3 L185.5 267.2 L185.8 267.2 L186.0 267.2 L186.2 268.3 L186.4 268.3 L186.6 268.3 L186.8 263.7 L187.0 267.2 L187.2 266.0 L187.4 266.0 L187.6 267.2 L187.8 267.2 L188.0 267.2 L188.2 268.3 L188.4 267.2 L188.6 268.3 L188.8 268.3 L189.0 266.0 L189.2 268.3 L189.4 267.2 L189.6 267.2 L189.8 268.3 L190.0 266.0 L190.2 268.3 L190.4 267.2 L190.6 267.2 L190.8 268.3 L191.0 268.3 L191.2 267.2 L191.4 267.2 L191.6 268.3 L191.8 267.2 L192.0 266.0 L192.2 268.3 L192.5 268.3 L192.7 268.3 L192.9 268.3 L193.1 266.0 L193.3 267.2 L193.5 266.0 L193.7 268.3 L193.9 268.3 L194.1 268.3 L194.3 266.0 L194.5 267.2 L194.7 268.3 L194.9 267.2 L195.1 267.2 L195.3 264.9 L195.5 267.2 L195.7 268.3 L195.9 267.2 L196.1 267.2 L196.3 268.3 L196.5 267.2 L196.7 263.7 L196.9 267.2 L197.1 268.3 L197.3 264.9 L197.5 268.3 L197.7 268.3 L197.9 268.3 L198.1 268.3 L198.3 268.3 L198.5 268.3 L198.7 268.3 L198.9 268.3 L199.2 268.3 L199.4 268.3 L199.6 268.3 L199.8 268.3 L200.0 268.3 L200.2 268.3 L200.4 268.3 L200.6 268.3 L200.8 268.3 L201.0 268.3 L201.2 268.3 L201.4 268.3 L201.6 268.3 L201.8 268.3 L202.0 268.3 L202.2 268.3 L202.4 268.3 L202.6 268.3 L202.8 268.3 L203.0 268.3 L203.2 268.3 L203.4 268.3 L203.6 268.3 L203.8 268.3 L204.0 268.3 L204.2 268.3 L204.4 268.3 L204.6 268.3 L204.8 268.3 L205.0 268.3 L205.2 268.3 L205.4 268.3 L205.6 268.3 L205.9 268.3 L206.1 268.3 L206.3 268.3 L206.5 268.3 L206.7 268.3 L206.9 268.3 L207.1 268.3 L207.3 268.3 L207.5 268.3 L207.7 268.3 L207.9 268.3 L208.1 268.3 L208.3 268.3 L208.5 268.3 L208.7 268.3 L208.9 268.3 L209.1 268.3 L209.3 268.3 L209.5 268.3 L209.7 268.3 L209.9 268.3 L210.1 268.3 L210.3 268.3 L210.5 268.3 L210.7 268.3 L210.9 268.3 L211.1 268.3 L211.3 268.3 L211.5 268.3 L211.7 268.3 L211.9 268.3 L212.1 268.3 L212.3 268.3 L212.6 268.3 L212.8 268.3 L213.0 268.3 L213.2 268.3 L213.4 268.3 L213.6 268.3 L213.8 268.3 L214.0 268.3 L214.2 268.3 L214.4 268.3 L214.6 268.3 L214.8 268.3 L215.0 268.3 L215.2 268.3 L215.4 268.3 L215.6 268.3 L215.8 268.3 L216.0 268.3 L216.2 268.3 L216.4 268.3 L216.6 268.3 L216.8 268.3 L217.0 268.3 L217.2 268.3 L217.4 268.3 L217.6 268.3 L217.8 268.3 L218.0 268.3 L218.2 268.3 L218.4 268.3 L218.6 268.3 L218.8 268.3 L219.0 268.3 L219.3 268.3 L219.5 268.3 L219.7 268.3 L219.9 268.3 L220.1 268.3 L220.3 268.3 L220.5 268.3 L220.7 268.3 L220.9 268.3 L221.1 268.3 L221.3 268.3 L221.5 268.3 L221.7 268.3 L221.9 268.3 L222.1 268.3 L222.3 268.3 L222.5 268.3 L222.7 268.3 L222.9 268.3 L223.1 268.3 L223.3 268.3 L223.5 268.3 L223.7 268.3 L223.9 268.3 L224.1 268.3 L224.3 268.3 L224.5 268.3 L224.7 268.3 L224.9 268.3 L225.1 268.3 L225.3 268.3 L225.5 268.3 L225.7 268.3 L226.0 268.3 L226.2 268.3 L226.4 268.3 L226.6 268.3 L226.8 268.3 L227.0 268.3 L227.2 268.3 L227.4 268.3 L227.6 268.3 L227.8 268.3 L228.0 268.3 L228.2 268.3 L228.4 268.3 L228.6 268.3 L228.8 268.3 L229.0 268.3 L229.2 268.3 L229.4 268.3 L229.6 268.3 L229.8 268.3 L230.0 268.3 L230.2 268.3 L230.4 268.3 L230.6 268.3 L230.8 268.3 L231.0 268.3 L231.2 268.3 L231.4 268.3 L231.6 268.3 L231.8 268.3 L232.0 268.3 L232.2 268.3 L232.4 268.3 L232.7 268.3 L232.9 268.3 L233.1 268.3 L233.3 268.3 L233.5 268.3 L233.7 268.3 L233.9 268.3 L234.1 268.3 L234.3 268.3 L234.5 268.3 L234.7 268.3 L234.9 268.3 L235.1 268.3 L235.3 268.3 L235.5 268.3 L235.7 268.3 L235.9 268.3 L236.1 268.3 L236.3 268.3 L236.5 268.3 L236.7 268.3 L236.9 268.3 L237.1 268.3 L237.3 268.3 L237.5 268.3 L237.7 268.3 L237.9 268.3 L238.1 268.3 L238.3 268.3 L238.5 268.3 L238.7 268.3 L238.9 268.3 L239.1 268.3 L239.4 268.3 L239.6 268.3 L239.8 268.3 L240.0 268.3 L240.2 268.3 L240.4 268.3 L240.6 268.3 L240.8 268.3 L241.0 268.3 L241.2 268.3 L241.4 268.3 L241.6 268.3 L241.8 268.3 L242.0 268.3 L242.2 268.3 L242.4 268.3 L242.6 268.3 L242.8 268.3 L243.0 268.3 L243.2 268.3 L243.4 268.3 L243.6 268.3 L243.8 268.3 L244.0 268.3 L244.2 268.3 L244.4 268.3 L244.6 268.3 L244.8 268.3 L245.0 268.3 L245.2 268.3 L245.4 268.3 L245.6 268.3 L245.8 268.3 L246.1 268.3 L246.3 268.3 L246.5 268.3 L246.7 268.3 L246.9 268.3 L247.1 268.3 L247.3 268.3 L247.5 268.3 L247.7 268.3 L247.9 268.3 L248.1 268.3 L248.3 268.3 L248.5 268.3 L248.7 268.3 L248.9 268.3 L249.1 268.3 L249.3 268.3" fill="none" stroke="#0a0a0a" stroke-width="1.4" stroke-linejoin="miter" stroke-miterlimit="2"/>
<rect x="41.5" y="169.5" width="207.9" height="98.8" fill="none" stroke="#0a0a0a" stroke-width="1.6"/>
<path d="M41.5 168.7V269.40000000000003" fill="none" stroke="#0a0a0a" stroke-width="2"/>
<path d="M40.5 268.3H250.20000000000002" fill="none" stroke="#0a0a0a" stroke-width="2.3"/>
<path d="M35.5 169.50H41.5M37.9 175.68H41.5M37.9 181.85H41.5M37.9 188.03H41.5M35.5 194.20H41.5M37.9 200.38H41.5M37.9 206.55H41.5M37.9 212.73H41.5M35.5 218.90H41.5M37.9 225.07H41.5M37.9 231.25H41.5M37.9 237.43H41.5M35.5 243.60H41.5M37.9 249.78H41.5M37.9 255.95H41.5M37.9 262.12H41.5M35.5 268.30H41.5" stroke="#0a0a0a" stroke-width="1.3" fill="none"/>
<text x="30.9" y="173.0" font-size="10" text-anchor="end">86</text>
<text x="30.9" y="197.7" font-size="10" text-anchor="end">65</text>
<text x="30.9" y="222.4" font-size="10" text-anchor="end">43</text>
<text x="30.9" y="247.1" font-size="10" text-anchor="end">22</text>
<text x="30.9" y="271.8" font-size="10" text-anchor="end">0</text>
<path d="M41.50 268.3V273.9M57.15 268.3V272.3M66.30 268.3V272.3M72.79 268.3V272.3M77.83 268.3V272.3M81.94 268.3V272.3M85.42 268.3V272.3M88.44 268.3V272.3M91.10 268.3V272.3M93.47 268.3V273.9M109.12 268.3V272.3M118.27 268.3V272.3M124.77 268.3V272.3M129.80 268.3V272.3M133.92 268.3V272.3M137.40 268.3V272.3M140.41 268.3V272.3M143.07 268.3V272.3M145.45 268.3V273.9M161.10 268.3V272.3M170.25 268.3V272.3M176.74 268.3V272.3M181.78 268.3V272.3M185.89 268.3V272.3M189.37 268.3V272.3M192.39 268.3V272.3M195.05 268.3V272.3M197.43 268.3V273.9M213.07 268.3V272.3M222.22 268.3V272.3M228.72 268.3V272.3M233.75 268.3V272.3M237.87 268.3V272.3M241.35 268.3V272.3M244.36 268.3V272.3M247.02 268.3V272.3M249.40 268.3V273.90000000000003" stroke="#0a0a0a" stroke-width="1.3" fill="none"/>
<text x="41.5" y="286.6" font-size="10.4" text-anchor="middle">10</text>
<text x="48.9" y="283.2" font-size="9.8" text-anchor="start">0</text>
<text x="93.5" y="286.6" font-size="10.4" text-anchor="middle">10</text>
<text x="100.9" y="283.2" font-size="9.8" text-anchor="start">1</text>
<text x="145.4" y="286.6" font-size="10.4" text-anchor="middle">10</text>
<text x="152.8" y="283.2" font-size="9.8" text-anchor="start">2</text>
<text x="197.4" y="286.6" font-size="10.4" text-anchor="middle">10</text>
<text x="204.8" y="283.2" font-size="9.8" text-anchor="start">3</text>
<text x="249.4" y="286.6" font-size="10.4" text-anchor="middle">10</text>
<text x="255.6" y="283.2" font-size="9.8" text-anchor="start">4</text>
<text x="139.7" y="161.8" font-size="10.5" font-weight="bold" text-anchor="middle">Human Platelets</text>
<text transform="translate(15.3 222.4) rotate(-90)" font-size="10.4" text-anchor="middle">Fluorescence</text>
<text x="148.5" y="297.9" font-size="10" text-anchor="middle">CD68</text>
<path d="M307.7 252.1 L307.9 251.4 L308.1 250.1 L308.3 246.1 L308.5 245.5 L308.7 250.1 L308.9 248.1 L309.1 248.8 L309.3 252.8 L309.5 255.4 L309.7 253.4 L309.9 246.1 L310.1 240.2 L310.3 255.4 L310.5 248.8 L310.7 254.1 L310.9 252.8 L311.1 252.1 L311.3 252.8 L311.5 251.4 L311.7 254.8 L311.9 246.8 L312.1 252.8 L312.3 248.1 L312.5 244.1 L312.7 249.5 L312.9 248.8 L313.1 245.5 L313.3 248.8 L313.5 242.1 L313.7 240.8 L313.8 248.1 L314.0 246.1 L314.2 244.8 L314.4 247.5 L314.6 249.5 L314.8 243.5 L315.0 242.8 L315.2 242.1 L315.4 247.5 L315.6 245.5 L315.8 243.5 L316.0 238.2 L316.2 233.5 L316.4 243.5 L316.6 238.2 L316.8 242.8 L317.0 237.5 L317.2 229.5 L317.4 235.5 L317.6 240.8 L317.8 244.1 L318.0 241.5 L318.2 225.5 L318.4 236.2 L318.6 236.2 L318.8 237.5 L319.0 233.5 L319.2 233.5 L319.4 226.9 L319.6 234.8 L319.7 230.9 L319.9 226.9 L320.1 228.2 L320.3 234.2 L320.5 231.5 L320.7 224.2 L320.9 224.2 L321.1 232.8 L321.3 224.2 L321.5 226.9 L321.7 232.8 L321.9 222.9 L322.1 230.9 L322.3 229.5 L322.5 214.2 L322.7 231.5 L322.9 222.9 L323.1 225.5 L323.3 221.6 L323.5 214.9 L323.7 222.2 L323.9 224.9 L324.1 220.2 L324.3 206.3 L324.5 222.2 L324.7 212.9 L324.9 214.2 L325.1 220.9 L325.3 207.6 L325.5 212.2 L325.7 208.3 L325.8 212.9 L326.0 212.2 L326.2 210.3 L326.4 219.6 L326.6 214.2 L326.8 213.6 L327.0 202.9 L327.2 213.6 L327.4 211.6 L327.6 204.9 L327.8 206.9 L328.0 201.0 L328.2 197.0 L328.4 193.0 L328.6 210.3 L328.8 197.6 L329.0 197.0 L329.2 187.0 L329.4 199.6 L329.6 194.3 L329.8 197.0 L330.0 195.0 L330.2 202.3 L330.4 190.3 L330.6 199.0 L330.8 207.6 L331.0 200.3 L331.2 201.6 L331.4 189.0 L331.6 199.6 L331.7 197.0 L331.9 191.0 L332.1 199.6 L332.3 204.3 L332.5 208.3 L332.7 199.0 L332.9 195.0 L333.1 177.0 L333.3 192.3 L333.5 197.0 L333.7 206.3 L333.9 187.7 L334.1 194.3 L334.3 183.7 L334.5 193.6 L334.7 196.3 L334.9 191.7 L335.1 185.7 L335.3 171.1 L335.5 181.0 L335.7 187.7 L335.9 185.0 L336.1 194.3 L336.3 183.0 L336.5 202.9 L336.7 185.0 L336.9 193.0 L337.1 180.4 L337.3 182.4 L337.5 188.3 L337.7 181.0 L337.8 174.4 L338.0 187.0 L338.2 180.4 L338.4 181.7 L338.6 195.6 L338.8 173.7 L339.0 197.0 L339.2 195.6 L339.4 185.7 L339.6 180.4 L339.8 181.0 L340.0 195.0 L340.2 201.6 L340.4 191.0 L340.6 199.6 L340.8 204.3 L341.0 183.0 L341.2 191.0 L341.4 179.7 L341.6 187.7 L341.8 189.7 L342.0 199.0 L342.2 191.7 L342.4 201.6 L342.6 201.6 L342.8 191.7 L343.0 194.3 L343.2 210.3 L343.4 195.6 L343.6 184.3 L343.7 199.0 L343.9 191.0 L344.1 201.0 L344.3 202.3 L344.5 204.9 L344.7 196.3 L344.9 202.9 L345.1 192.3 L345.3 214.9 L345.5 205.6 L345.7 197.0 L345.9 203.6 L346.1 227.5 L346.3 206.9 L346.5 210.9 L346.7 199.6 L346.9 217.6 L347.1 212.9 L347.3 206.9 L347.5 215.6 L347.7 220.2 L347.9 217.6 L348.1 220.2 L348.3 222.9 L348.5 221.6 L348.7 214.9 L348.9 228.9 L349.1 224.9 L349.3 230.2 L349.5 216.2 L349.7 220.2 L349.8 225.5 L350.0 228.2 L350.2 226.2 L350.4 229.5 L350.6 219.6 L350.8 230.9 L351.0 230.2 L351.2 228.2 L351.4 231.5 L351.6 231.5 L351.8 226.9 L352.0 224.9 L352.2 229.5 L352.4 225.5 L352.6 235.5 L352.8 224.9 L353.0 240.8 L353.2 240.2 L353.4 236.8 L353.6 243.5 L353.8 235.5 L354.0 243.5 L354.2 244.8 L354.4 241.5 L354.6 241.5 L354.8 246.1 L355.0 243.5 L355.2 244.8 L355.4 245.5 L355.6 248.8 L355.8 249.5 L355.9 249.5 L356.1 249.5 L356.3 246.1 L356.5 252.8 L356.7 252.1 L356.9 250.1 L357.1 253.4 L357.3 252.8 L357.5 250.1 L357.7 253.4 L357.9 252.1 L358.1 254.1 L358.3 250.8 L358.5 248.1 L358.7 257.4 L358.9 256.1 L359.1 249.5 L359.3 252.1 L359.5 250.1 L359.7 254.8 L359.9 256.1 L360.1 256.8 L360.3 249.5 L360.5 252.8 L360.7 256.1 L360.9 255.4 L361.1 250.8 L361.3 254.1 L361.5 248.8 L361.7 254.1 L361.8 258.1 L362.0 257.4 L362.2 251.4 L362.4 258.8 L362.6 256.1 L362.8 257.4 L363.0 259.4 L363.2 256.1 L363.4 260.1 L363.6 256.8 L363.8 260.7 L364.0 261.4 L364.2 259.4 L364.4 259.4 L364.6 258.1 L364.8 260.7 L365.0 262.7 L365.2 263.4 L365.4 260.7 L365.6 254.8 L365.8 261.4 L366.0 260.1 L366.2 262.7 L366.4 260.7 L366.6 262.1 L366.8 260.7 L367.0 258.8 L367.2 259.4 L367.4 262.7 L367.6 264.1 L367.8 263.4 L367.9 262.7 L368.1 262.7 L368.3 264.7 L368.5 262.1 L368.7 258.8 L368.9 262.7 L369.1 264.7 L369.3 260.1 L369.5 263.4 L369.7 263.4 L369.9 261.4 L370.1 265.4 L370.3 261.4 L370.5 262.7 L370.7 262.7 L370.9 261.4 L371.1 263.4 L371.3 265.4 L371.5 264.7 L371.7 263.4 L371.9 262.7 L372.1 261.4 L372.3 262.7 L372.5 264.1 L372.7 262.1 L372.9 264.7 L373.1 263.4 L373.3 263.4 L373.5 264.7 L373.7 262.7 L373.8 264.7 L374.0 264.1 L374.2 264.7 L374.4 265.4 L374.6 264.1 L374.8 262.1 L375.0 264.7 L375.2 263.4 L375.4 264.7 L375.6 264.7 L375.8 262.7 L376.0 265.4 L376.2 264.1 L376.4 262.7 L376.6 264.1 L376.8 263.4 L377.0 264.7 L377.2 263.4 L377.4 262.7 L377.6 264.7 L377.8 264.7 L378.0 265.4 L378.2 263.4 L378.4 264.1 L378.6 264.7 L378.8 264.1 L379.0 264.1 L379.2 265.4 L379.4 264.1 L379.6 263.4 L379.8 264.7 L379.9 264.1 L380.1 264.7 L380.3 262.1 L380.5 265.4 L380.7 264.7 L380.9 263.4 L381.1 264.1 L381.3 264.1 L381.5 264.7 L381.7 264.1 L381.9 264.7 L382.1 265.4 L382.3 264.7 L382.5 264.1 L382.7 265.4 L382.9 265.4 L383.1 264.7 L383.3 264.7 L383.5 264.7 L383.7 264.7 L383.9 265.4 L384.1 264.1 L384.3 264.7 L384.5 264.1 L384.7 264.7 L384.9 263.4 L385.1 265.4 L385.3 265.4 L385.5 264.7 L385.7 264.7 L385.8 263.4 L386.0 264.1 L386.2 265.4 L386.4 264.7 L386.6 265.4 L386.8 265.4 L387.0 264.7 L387.2 264.7 L387.4 265.4 L387.6 264.7 L387.8 264.1 L388.0 264.7 L388.2 265.4 L388.4 265.4 L388.6 263.4 L388.8 264.7 L389.0 265.4 L389.2 265.4 L389.4 265.4 L389.6 264.7 L389.8 265.4 L390.0 264.7 L390.2 265.4 L390.4 264.1 L390.6 264.7 L390.8 264.7 L391.0 265.4 L391.2 265.4 L391.4 265.4 L391.6 263.4 L391.8 265.4 L391.9 264.1 L392.1 265.4 L392.3 264.7 L392.5 263.4 L392.7 264.7 L392.9 264.7 L393.1 265.4 L393.3 264.1 L393.5 264.7 L393.7 265.4 L393.9 265.4 L394.1 264.1 L394.3 265.4 L394.5 265.4 L394.7 264.7 L394.9 264.7 L395.1 265.4 L395.3 262.7 L395.5 265.4 L395.7 265.4 L395.9 265.4 L396.1 265.4 L396.3 265.4 L396.5 265.4 L396.7 265.4 L396.9 265.4 L397.1 264.7 L397.3 265.4 L397.5 265.4 L397.7 265.4 L397.9 264.7 L398.0 265.4 L398.2 265.4 L398.4 265.4 L398.6 265.4 L398.8 265.4 L399.0 264.1 L399.2 265.4 L399.4 264.7 L399.6 265.4 L399.8 265.4 L400.0 265.4 L400.2 264.7 L400.4 265.4 L400.6 264.7 L400.8 264.7 L401.0 264.7 L401.2 264.7 L401.4 265.4 L401.6 265.4 L401.8 265.4 L402.0 264.1 L402.2 265.4 L402.4 265.4 L402.6 264.7 L402.8 265.4 L403.0 265.4 L403.2 265.4 L403.4 263.4 L403.6 265.4 L403.8 264.7 L403.9 264.7 L404.1 265.4 L404.3 265.4 L404.5 265.4 L404.7 265.4 L404.9 263.4 L405.1 265.4 L405.3 265.4 L405.5 265.4 L405.7 265.4 L405.9 265.4 L406.1 264.7 L406.3 265.4 L406.5 265.4 L406.7 265.4 L406.9 265.4 L407.1 265.4 L407.3 265.4 L407.5 265.4 L407.7 265.4 L407.9 264.7 L408.1 265.4 L408.3 265.4 L408.5 265.4 L408.7 264.7 L408.9 265.4 L409.1 264.7 L409.3 264.7 L409.5 264.7 L409.7 264.1 L409.9 265.4 L410.0 265.4 L410.2 265.4 L410.4 264.7 L410.6 265.4 L410.8 265.4 L411.0 265.4 L411.2 265.4 L411.4 265.4 L411.6 265.4 L411.8 265.4 L412.0 265.4 L412.2 265.4 L412.4 265.4 L412.6 265.4 L412.8 265.4 L413.0 264.7 L413.2 265.4 L413.4 265.4 L413.6 264.7 L413.8 265.4 L414.0 265.4 L414.2 265.4 L414.4 264.1 L414.6 265.4 L414.8 264.7 L415.0 264.1 L415.2 265.4 L415.4 265.4 L415.6 265.4 L415.8 265.4 L415.9 265.4 L416.1 265.4 L416.3 265.4 L416.5 265.4 L416.7 265.4 L416.9 265.4 L417.1 265.4 L417.3 265.4 L417.5 264.7 L417.7 264.7 L417.9 265.4 L418.1 265.4 L418.3 265.4 L418.5 265.4 L418.7 265.4 L418.9 265.4 L419.1 265.4 L419.3 265.4 L419.5 265.4 L419.7 265.4 L419.9 265.4 L420.1 265.4 L420.3 265.4 L420.5 265.4 L420.7 265.4 L420.9 265.4 L421.1 265.4 L421.3 265.4 L421.5 265.4 L421.7 265.4 L421.9 265.4 L422.0 265.4 L422.2 265.4 L422.4 265.4 L422.6 265.4 L422.8 265.4 L423.0 265.4 L423.2 265.4 L423.4 265.4 L423.6 265.4 L423.8 265.4 L424.0 265.4 L424.2 265.4 L424.4 265.4 L424.6 265.4 L424.8 265.4 L425.0 265.4 L425.2 265.4 L425.4 265.4 L425.6 265.4 L425.8 265.4 L426.0 265.4 L426.2 265.4 L426.4 265.4 L426.6 265.4 L426.8 265.4 L427.0 265.4 L427.2 265.4 L427.4 265.4 L427.6 265.4 L427.8 265.4 L427.9 265.4 L428.1 265.4 L428.3 265.4 L428.5 265.4 L428.7 265.4 L428.9 265.4 L429.1 265.4 L429.3 265.4 L429.5 265.4 L429.7 265.4 L429.9 265.4 L430.1 265.4 L430.3 265.4 L430.5 265.4 L430.7 265.4 L430.9 265.4 L431.1 265.4 L431.3 265.4 L431.5 265.4 L431.7 265.4 L431.9 265.4 L432.1 265.4 L432.3 265.4 L432.5 265.4 L432.7 265.4 L432.9 265.4 L433.1 265.4 L433.3 265.4 L433.5 265.4 L433.7 265.4 L433.9 265.4 L434.0 265.4 L434.2 265.4 L434.4 265.4 L434.6 265.4 L434.8 265.4 L435.0 265.4 L435.2 265.4 L435.4 265.4 L435.6 265.4 L435.8 265.4 L436.0 265.4 L436.2 265.4 L436.4 265.4 L436.6 265.4 L436.8 265.4 L437.0 265.4 L437.2 265.4 L437.4 265.4 L437.6 265.4 L437.8 265.4 L438.0 265.4 L438.2 265.4 L438.4 265.4 L438.6 265.4 L438.8 265.4 L439.0 265.4 L439.2 265.4 L439.4 265.4 L439.6 265.4 L439.8 265.4 L439.9 265.4 L440.1 265.4 L440.3 265.4 L440.5 265.4 L440.7 265.4 L440.9 265.4 L441.1 265.4 L441.3 265.4 L441.5 265.4 L441.7 265.4 L441.9 265.4 L442.1 265.4 L442.3 265.4 L442.5 265.4 L442.7 265.4 L442.9 265.4 L443.1 265.4 L443.3 265.4 L443.5 265.4 L443.7 265.4 L443.9 265.4 L444.1 265.4 L444.3 265.4 L444.5 265.4 L444.7 265.4 L444.9 265.4 L445.1 265.4 L445.3 265.4 L445.5 265.4 L445.7 265.4 L445.9 265.4 L446.0 265.4 L446.2 265.4 L446.4 265.4 L446.6 265.4 L446.8 265.4 L447.0 265.4 L447.2 265.4 L447.4 265.4 L447.6 265.4 L447.8 265.4 L448.0 265.4 L448.2 265.4 L448.4 265.4 L448.6 265.4 L448.8 265.4 L449.0 265.4 L449.2 265.4 L449.4 265.4 L449.6 265.4 L449.8 265.4 L450.0 265.4 L450.2 265.4 L450.4 265.4 L450.6 265.4 L450.8 265.4 L451.0 265.4 L451.2 265.4 L451.4 265.4 L451.6 265.4 L451.8 265.4 L452.0 265.4 L452.1 265.4 L452.3 265.4 L452.5 265.4 L452.7 265.4 L452.9 265.4 L453.1 265.4 L453.3 265.4 L453.5 265.4 L453.7 265.4 L453.9 265.4 L454.1 265.4 L454.3 265.4 L454.5 265.4 L454.7 265.4 L454.9 265.4 L455.1 265.4 L455.3 265.4 L455.5 265.4 L455.7 265.4 L455.9 265.4 L456.1 265.4 L456.3 265.4 L456.5 265.4 L456.7 265.4 L456.9 265.4 L457.1 265.4 L457.3 265.4 L457.5 265.4 L457.7 265.4 L457.9 265.4 L458.0 265.4 L458.2 265.4 L458.4 265.4 L458.6 265.4 L458.8 265.4 L459.0 265.4 L459.2 265.4 L459.4 265.4 L459.6 265.4 L459.8 265.4 L460.0 265.4 L460.2 265.4 L460.4 265.4 L460.6 265.4 L460.8 265.4 L461.0 265.4 L461.2 265.4 L461.4 265.4 L461.6 265.4 L461.8 265.4 L462.0 265.4 L462.2 265.4 L462.4 265.4 L462.6 265.4 L462.8 265.4 L463.0 265.4 L463.2 265.4 L463.4 265.4 L463.6 265.4 L463.8 265.4 L464.0 265.4 L464.1 265.4 L464.3 265.4 L464.5 265.4 L464.7 265.4 L464.9 265.4 L465.1 265.4 L465.3 265.4 L465.5 265.4 L465.7 265.4 L465.9 265.4 L466.1 265.4 L466.3 265.4 L466.5 265.4 L466.7 265.4 L466.9 265.4 L467.1 265.4 L467.3 265.4 L467.5 265.4 L467.7 265.4 L467.9 265.4 L468.1 265.4 L468.3 265.4 L468.5 265.4 L468.7 265.4 L468.9 265.4 L469.1 265.4 L469.3 265.4 L469.5 265.4 L469.7 265.4 L469.9 265.4 L470.0 265.4 L470.2 265.4 L470.4 265.4 L470.6 265.4 L470.8 265.4 L471.0 265.4 L471.2 265.4 L471.4 265.4 L471.6 265.4 L471.8 265.4 L472.0 265.4 L472.2 265.4 L472.4 265.4 L472.6 265.4 L472.8 265.4 L473.0 265.4 L473.2 265.4 L473.4 265.4 L473.6 265.4 L473.8 265.4 L474.0 265.4 L474.2 265.4 L474.4 265.4 L474.6 265.4 L474.8 265.4 L475.0 265.4 L475.2 265.4 L475.4 265.4 L475.6 265.4 L475.8 265.4 L476.0 265.4 L476.1 265.4 L476.3 265.4 L476.5 265.4 L476.7 265.4 L476.9 265.4 L477.1 265.4 L477.3 265.4 L477.5 265.4 L477.7 265.4 L477.9 265.4 L478.1 265.4 L478.3 265.4 L478.5 265.4 L478.7 265.4 L478.9 265.4 L479.1 265.4 L479.3 265.4 L479.5 265.4 L479.7 265.4 L479.9 265.4 L480.1 265.4 L480.3 265.4 L480.5 265.4 L480.7 265.4 L480.9 265.4 L481.1 265.4 L481.3 265.4 L481.5 265.4 L481.7 265.4 L481.9 265.4 L482.0 265.4 L482.2 265.4 L482.4 265.4 L482.6 265.4 L482.8 265.4 L483.0 265.4 L483.2 265.4 L483.4 265.4 L483.6 265.4 L483.8 265.4 L484.0 265.4 L484.2 265.4 L484.4 265.4 L484.6 265.4 L484.8 265.4 L485.0 265.4 L485.2 265.4 L485.4 265.4 L485.6 265.4 L485.8 265.4 L486.0 265.4 L486.2 265.4 L486.4 265.4 L486.6 265.4 L486.8 265.4 L487.0 265.4 L487.2 265.4 L487.4 265.4 L487.6 265.4 L487.8 265.4 L488.0 265.4 L488.1 265.4 L488.3 265.4 L488.5 265.4 L488.7 265.4 L488.9 265.4 L489.1 265.4 L489.3 265.4 L489.5 265.4 L489.7 265.4 L489.9 265.4 L490.1 265.4 L490.3 265.4 L490.5 265.4 L490.7 265.4 L490.9 265.4 L491.1 265.4 L491.3 265.4 L491.5 265.4 L491.7 265.4 L491.9 265.4 L492.1 265.4 L492.3 265.4 L492.5 265.4 L492.7 265.4 L492.9 265.4 L493.1 265.4 L493.3 265.4 L493.5 265.4 L493.7 265.4 L493.9 265.4 L494.1 265.4 L494.2 265.4 L494.4 265.4 L494.6 265.4 L494.8 265.4 L495.0 265.4 L495.2 265.4 L495.4 265.4 L495.6 265.4 L495.8 265.4 L496.0 265.4 L496.2 265.4 L496.4 265.4 L496.6 265.4 L496.8 265.4 L497.0 265.4 L497.2 265.4 L497.4 265.4 L497.6 265.4 L497.8 265.4 L498.0 265.4 L498.2 265.4 L498.4 265.4 L498.6 265.4 L498.8 265.4 L499.0 265.4 L499.2 265.4 L499.4 265.4 L499.6 265.4 L499.8 265.4 L500.0 265.4 L500.1 265.4 L500.3 265.4 L500.5 265.4 L500.7 265.4 L500.9 265.4 L501.1 265.4 L501.3 265.4 L501.5 265.4 L501.7 265.4 L501.9 265.4 L502.1 265.4 L502.3 265.4 L502.5 265.4 L502.7 265.4 L502.9 265.4 L503.1 265.4 L503.3 265.4 L503.5 265.4 L503.7 265.4 L503.9 265.4 L504.1 265.4 L504.3 265.4 L504.5 265.4 L504.7 265.4 L504.9 265.4 L505.1 265.4 L505.3 265.4 L505.5 265.4 L505.7 265.4 L505.9 265.4 L506.1 265.4 L506.2 265.4 L506.4 265.4 L506.6 265.4 L506.8 265.4 L507.0 265.4 L507.2 265.4 L507.4 265.4 L507.6 265.4 L507.8 265.4 L508.0 265.4 L508.2 265.4 L508.4 265.4 L508.6 265.4 L508.8 265.4 L509.0 265.4" fill="none" stroke="#0a0a0a" stroke-width="1.4" stroke-linejoin="miter" stroke-miterlimit="2"/>
<path d="M307.7 250.8 L307.9 250.1 L308.1 250.8 L308.3 250.1 L308.5 253.4 L308.7 252.1 L308.9 239.5 L309.1 254.1 L309.3 249.5 L309.5 247.5 L309.7 246.1 L309.9 244.8 L310.1 245.5 L310.3 252.8 L310.5 248.1 L310.7 246.8 L310.9 240.8 L311.1 253.4 L311.3 248.1 L311.5 241.5 L311.7 248.1 L311.9 249.5 L312.1 247.5 L312.3 245.5 L312.5 250.8 L312.7 243.5 L312.9 236.2 L313.1 239.5 L313.3 246.8 L313.5 245.5 L313.7 242.1 L313.8 244.1 L314.0 243.5 L314.2 236.2 L314.4 243.5 L314.6 240.2 L314.8 230.2 L315.0 241.5 L315.2 240.8 L315.4 241.5 L315.6 237.5 L315.8 233.5 L316.0 240.2 L316.2 238.2 L316.4 239.5 L316.6 234.2 L316.8 240.2 L317.0 228.2 L317.2 229.5 L317.4 232.2 L317.6 233.5 L317.8 221.6 L318.0 234.2 L318.2 224.9 L318.4 229.5 L318.6 232.8 L318.8 224.9 L319.0 234.2 L319.2 230.9 L319.4 229.5 L319.6 227.5 L319.7 228.9 L319.9 219.6 L320.1 213.6 L320.3 225.5 L320.5 218.2 L320.7 220.9 L320.9 217.6 L321.1 222.9 L321.3 211.6 L321.5 223.5 L321.7 214.9 L321.9 224.2 L322.1 214.9 L322.3 219.6 L322.5 213.6 L322.7 220.2 L322.9 226.2 L323.1 211.6 L323.3 208.3 L323.5 206.3 L323.7 211.6 L323.9 216.2 L324.1 207.6 L324.3 214.9 L324.5 201.6 L324.7 214.2 L324.9 202.9 L325.1 210.9 L325.3 193.6 L325.5 202.9 L325.7 209.6 L325.8 219.6 L326.0 202.9 L326.2 191.7 L326.4 210.9 L326.6 200.3 L326.8 196.3 L327.0 202.3 L327.2 188.3 L327.4 197.0 L327.6 203.6 L327.8 194.3 L328.0 207.6 L328.2 189.0 L328.4 190.3 L328.6 185.0 L328.8 195.0 L329.0 189.7 L329.2 197.6 L329.4 187.7 L329.6 181.0 L329.8 184.3 L330.0 171.1 L330.2 197.0 L330.4 181.7 L330.6 190.3 L330.8 192.3 L331.0 183.7 L331.2 190.3 L331.4 183.7 L331.6 195.0 L331.7 179.7 L331.9 189.7 L332.1 177.7 L332.3 179.7 L332.5 176.4 L332.7 178.4 L332.9 181.0 L333.1 172.4 L333.3 180.4 L333.5 183.7 L333.7 187.0 L333.9 183.7 L334.1 189.0 L334.3 172.4 L334.5 172.4 L334.7 184.3 L334.9 193.0 L335.1 173.7 L335.3 185.0 L335.5 179.0 L335.7 183.0 L335.9 176.4 L336.1 177.7 L336.3 183.0 L336.5 170.4 L336.7 174.4 L336.9 193.0 L337.1 175.7 L337.3 190.3 L337.5 195.6 L337.7 172.4 L337.8 187.7 L338.0 179.0 L338.2 197.0 L338.4 183.0 L338.6 176.4 L338.8 176.4 L339.0 174.4 L339.2 189.7 L339.4 189.0 L339.6 171.1 L339.8 186.3 L340.0 175.7 L340.2 196.3 L340.4 188.3 L340.6 187.7 L340.8 192.3 L341.0 189.7 L341.2 189.0 L341.4 193.6 L341.6 199.0 L341.8 194.3 L342.0 200.3 L342.2 196.3 L342.4 185.0 L342.6 189.0 L342.8 200.3 L343.0 206.9 L343.2 203.6 L343.4 202.3 L343.6 197.6 L343.7 209.6 L343.9 208.9 L344.1 208.3 L344.3 201.0 L344.5 199.0 L344.7 209.6 L344.9 211.6 L345.1 187.7 L345.3 215.6 L345.5 218.9 L345.7 211.6 L345.9 195.0 L346.1 206.9 L346.3 218.9 L346.5 202.3 L346.7 199.6 L346.9 224.9 L347.1 225.5 L347.3 217.6 L347.5 224.9 L347.7 210.9 L347.9 218.9 L348.1 226.9 L348.3 218.9 L348.5 233.5 L348.7 224.9 L348.9 230.2 L349.1 228.9 L349.3 229.5 L349.5 227.5 L349.7 230.9 L349.8 222.2 L350.0 226.2 L350.2 230.2 L350.4 232.2 L350.6 229.5 L350.8 240.2 L351.0 234.8 L351.2 237.5 L351.4 237.5 L351.6 242.8 L351.8 246.8 L352.0 238.8 L352.2 238.8 L352.4 246.8 L352.6 242.1 L352.8 241.5 L353.0 248.1 L353.2 242.8 L353.4 243.5 L353.6 244.8 L353.8 243.5 L354.0 241.5 L354.2 244.1 L354.4 243.5 L354.6 245.5 L354.8 246.8 L355.0 251.4 L355.2 249.5 L355.4 248.8 L355.6 252.1 L355.8 252.1 L355.9 251.4 L356.1 255.4 L356.3 254.8 L356.5 248.8 L356.7 258.8 L356.9 251.4 L357.1 255.4 L357.3 251.4 L357.5 248.8 L357.7 256.8 L357.9 254.8 L358.1 255.4 L358.3 254.8 L358.5 251.4 L358.7 256.1 L358.9 256.1 L359.1 257.4 L359.3 255.4 L359.5 252.8 L359.7 258.1 L359.9 261.4 L360.1 256.8 L360.3 255.4 L360.5 261.4 L360.7 258.1 L360.9 258.1 L361.1 258.8 L361.3 258.8 L361.5 257.4 L361.7 257.4 L361.8 260.7 L362.0 261.4 L362.2 260.1 L362.4 263.4 L362.6 260.7 L362.8 260.1 L363.0 258.1 L363.2 260.7 L363.4 262.1 L363.6 258.8 L363.8 260.7 L364.0 260.7 L364.2 260.1 L364.4 260.7 L364.6 261.4 L364.8 260.7 L365.0 263.4 L365.2 262.1 L365.4 262.1 L365.6 261.4 L365.8 261.4 L366.0 260.7 L366.2 264.7 L366.4 262.1 L366.6 264.7 L366.8 264.1 L367.0 263.4 L367.2 262.1 L367.4 262.7 L367.6 264.7 L367.8 262.1 L367.9 264.1 L368.1 264.7 L368.3 263.4 L368.5 262.1 L368.7 263.4 L368.9 264.7 L369.1 263.4 L369.3 262.7 L369.5 264.1 L369.7 264.1 L369.9 264.1 L370.1 264.1 L370.3 263.4 L370.5 264.7 L370.7 264.7 L370.9 263.4 L371.1 263.4 L371.3 263.4 L371.5 264.7 L371.7 263.4 L371.9 263.4 L372.1 264.1 L372.3 264.7 L372.5 265.4 L372.7 263.4 L372.9 263.4 L373.1 264.1 L373.3 264.7 L373.5 264.1 L373.7 264.7 L373.8 264.7 L374.0 264.7 L374.2 264.1 L374.4 265.4 L374.6 264.1 L374.8 265.4 L375.0 265.4 L375.2 264.7 L375.4 264.7 L375.6 265.4 L375.8 263.4 L376.0 264.7 L376.2 264.7 L376.4 265.4 L376.6 264.1 L376.8 264.1 L377.0 264.7 L377.2 263.4 L377.4 264.1 L377.6 265.4 L377.8 264.1 L378.0 265.4 L378.2 264.7 L378.4 264.7 L378.6 265.4 L378.8 264.7 L379.0 264.1 L379.2 265.4 L379.4 265.4 L379.6 264.7 L379.8 264.7 L379.9 265.4 L380.1 265.4 L380.3 264.7 L380.5 265.4 L380.7 263.4 L380.9 264.7 L381.1 265.4 L381.3 265.4 L381.5 265.4 L381.7 265.4 L381.9 265.4 L382.1 265.4 L382.3 263.4 L382.5 264.7 L382.7 264.1 L382.9 264.7 L383.1 264.7 L383.3 264.7 L383.5 264.7 L383.7 264.1 L383.9 265.4 L384.1 264.7 L384.3 265.4 L384.5 264.7 L384.7 264.7 L384.9 264.7 L385.1 265.4 L385.3 265.4 L385.5 264.7 L385.7 265.4 L385.8 264.7 L386.0 265.4 L386.2 265.4 L386.4 265.4 L386.6 265.4 L386.8 264.7 L387.0 265.4 L387.2 264.7 L387.4 264.1 L387.6 265.4 L387.8 264.1 L388.0 265.4 L388.2 265.4 L388.4 264.7 L388.6 263.4 L388.8 265.4 L389.0 265.4 L389.2 264.7 L389.4 263.4 L389.6 265.4 L389.8 265.4 L390.0 265.4 L390.2 265.4 L390.4 264.7 L390.6 265.4 L390.8 264.7 L391.0 265.4 L391.2 265.4 L391.4 265.4 L391.6 264.1 L391.8 265.4 L391.9 264.1 L392.1 265.4 L392.3 265.4 L392.5 265.4 L392.7 264.7 L392.9 264.7 L393.1 264.7 L393.3 264.7 L393.5 264.7 L393.7 264.7 L393.9 265.4 L394.1 264.7 L394.3 265.4 L394.5 265.4 L394.7 264.7 L394.9 265.4 L395.1 265.4 L395.3 265.4 L395.5 265.4 L395.7 264.7 L395.9 265.4 L396.1 265.4 L396.3 265.4 L396.5 264.7 L396.7 265.4 L396.9 265.4 L397.1 264.7 L397.3 264.7 L397.5 265.4 L397.7 263.4 L397.9 264.7 L398.0 264.7 L398.2 264.1 L398.4 265.4 L398.6 265.4 L398.8 264.7 L399.0 265.4 L399.2 265.4 L399.4 265.4 L399.6 265.4 L399.8 264.7 L400.0 265.4 L400.2 265.4 L400.4 265.4 L400.6 265.4 L400.8 265.4 L401.0 265.4 L401.2 264.7 L401.4 264.7 L401.6 264.7 L401.8 265.4 L402.0 265.4 L402.2 265.4 L402.4 265.4 L402.6 265.4 L402.8 265.4 L403.0 265.4 L403.2 264.7 L403.4 265.4 L403.6 265.4 L403.8 265.4 L403.9 265.4 L404.1 265.4 L404.3 265.4 L404.5 265.4 L404.7 264.7 L404.9 265.4 L405.1 264.7 L405.3 265.4 L405.5 265.4 L405.7 264.7 L405.9 265.4 L406.1 264.7 L406.3 265.4 L406.5 265.4 L406.7 265.4 L406.9 265.4 L407.1 264.7 L407.3 264.7 L407.5 264.7 L407.7 265.4 L407.9 264.7 L408.1 265.4 L408.3 264.7 L408.5 264.7 L408.7 265.4 L408.9 265.4 L409.1 265.4 L409.3 265.4 L409.5 265.4 L409.7 265.4 L409.9 265.4 L410.0 265.4 L410.2 265.4 L410.4 264.1 L410.6 265.4 L410.8 265.4 L411.0 265.4 L411.2 265.4 L411.4 265.4 L411.6 264.7 L411.8 265.4 L412.0 265.4 L412.2 265.4 L412.4 265.4 L412.6 265.4 L412.8 264.1 L413.0 265.4 L413.2 265.4 L413.4 265.4 L413.6 264.7 L413.8 265.4 L414.0 265.4 L414.2 264.7 L414.4 265.4 L414.6 264.7 L414.8 265.4 L415.0 265.4 L415.2 265.4 L415.4 265.4 L415.6 264.7 L415.8 265.4 L415.9 265.4 L416.1 265.4 L416.3 264.1 L416.5 265.4 L416.7 265.4 L416.9 265.4 L417.1 264.7 L417.3 265.4 L417.5 264.7 L417.7 264.7 L417.9 265.4 L418.1 265.4 L418.3 264.7 L418.5 265.4 L418.7 265.4 L418.9 265.4 L419.1 265.4 L419.3 265.4 L419.5 265.4 L419.7 265.4 L419.9 265.4 L420.1 265.4 L420.3 265.4 L420.5 265.4 L420.7 265.4 L420.9 265.4 L421.1 265.4 L421.3 265.4 L421.5 265.4 L421.7 265.4 L421.9 265.4 L422.0 265.4 L422.2 265.4 L422.4 265.4 L422.6 265.4 L422.8 265.4 L423.0 265.4 L423.2 265.4 L423.4 265.4 L423.6 265.4 L423.8 265.4 L424.0 265.4 L424.2 265.4 L424.4 265.4 L424.6 265.4 L424.8 265.4 L425.0 265.4 L425.2 265.4 L425.4 265.4 L425.6 265.4 L425.8 265.4 L426.0 265.4 L426.2 265.4 L426.4 265.4 L426.6 265.4 L426.8 265.4 L427.0 265.4 L427.2 265.4 L427.4 265.4 L427.6 265.4 L427.8 265.4 L427.9 265.4 L428.1 265.4 L428.3 265.4 L428.5 265.4 L428.7 265.4 L428.9 265.4 L429.1 265.4 L429.3 265.4 L429.5 265.4 L429.7 265.4 L429.9 265.4 L430.1 265.4 L430.3 265.4 L430.5 265.4 L430.7 265.4 L430.9 265.4 L431.1 265.4 L431.3 265.4 L431.5 265.4 L431.7 265.4 L431.9 265.4 L432.1 265.4 L432.3 265.4 L432.5 265.4 L432.7 265.4 L432.9 265.4 L433.1 265.4 L433.3 265.4 L433.5 265.4 L433.7 265.4 L433.9 265.4 L434.0 265.4 L434.2 265.4 L434.4 265.4 L434.6 265.4 L434.8 265.4 L435.0 265.4 L435.2 265.4 L435.4 265.4 L435.6 265.4 L435.8 265.4 L436.0 265.4 L436.2 265.4 L436.4 265.4 L436.6 265.4 L436.8 265.4 L437.0 265.4 L437.2 265.4 L437.4 265.4 L437.6 265.4 L437.8 265.4 L438.0 265.4 L438.2 265.4 L438.4 265.4 L438.6 265.4 L438.8 265.4 L439.0 265.4 L439.2 265.4 L439.4 265.4 L439.6 265.4 L439.8 265.4 L439.9 265.4 L440.1 265.4 L440.3 265.4 L440.5 265.4 L440.7 265.4 L440.9 265.4 L441.1 265.4 L441.3 265.4 L441.5 265.4 L441.7 265.4 L441.9 265.4 L442.1 265.4 L442.3 265.4 L442.5 265.4 L442.7 265.4 L442.9 265.4 L443.1 265.4 L443.3 265.4 L443.5 265.4 L443.7 265.4 L443.9 265.4 L444.1 265.4 L444.3 265.4 L444.5 265.4 L444.7 265.4 L444.9 265.4 L445.1 265.4 L445.3 265.4 L445.5 265.4 L445.7 265.4 L445.9 265.4 L446.0 265.4 L446.2 265.4 L446.4 265.4 L446.6 265.4 L446.8 265.4 L447.0 265.4 L447.2 265.4 L447.4 265.4 L447.6 265.4 L447.8 265.4 L448.0 265.4 L448.2 265.4 L448.4 265.4 L448.6 265.4 L448.8 265.4 L449.0 265.4 L449.2 265.4 L449.4 265.4 L449.6 265.4 L449.8 265.4 L450.0 265.4 L450.2 265.4 L450.4 265.4 L450.6 265.4 L450.8 265.4 L451.0 265.4 L451.2 265.4 L451.4 265.4 L451.6 265.4 L451.8 265.4 L452.0 265.4 L452.1 265.4 L452.3 265.4 L452.5 265.4 L452.7 265.4 L452.9 265.4 L453.1 265.4 L453.3 265.4 L453.5 265.4 L453.7 265.4 L453.9 265.4 L454.1 265.4 L454.3 265.4 L454.5 265.4 L454.7 265.4 L454.9 265.4 L455.1 265.4 L455.3 265.4 L455.5 265.4 L455.7 265.4 L455.9 265.4 L456.1 265.4 L456.3 265.4 L456.5 265.4 L456.7 265.4 L456.9 265.4 L457.1 265.4 L457.3 265.4 L457.5 265.4 L457.7 265.4 L457.9 265.4 L458.0 265.4 L458.2 265.4 L458.4 265.4 L458.6 265.4 L458.8 265.4 L459.0 265.4 L459.2 265.4 L459.4 265.4 L459.6 265.4 L459.8 265.4 L460.0 265.4 L460.2 265.4 L460.4 265.4 L460.6 265.4 L460.8 265.4 L461.0 265.4 L461.2 265.4 L461.4 265.4 L461.6 265.4 L461.8 265.4 L462.0 265.4 L462.2 265.4 L462.4 265.4 L462.6 265.4 L462.8 265.4 L463.0 265.4 L463.2 265.4 L463.4 265.4 L463.6 265.4 L463.8 265.4 L464.0 265.4 L464.1 265.4 L464.3 265.4 L464.5 265.4 L464.7 265.4 L464.9 265.4 L465.1 265.4 L465.3 265.4 L465.5 265.4 L465.7 265.4 L465.9 265.4 L466.1 265.4 L466.3 265.4 L466.5 265.4 L466.7 265.4 L466.9 265.4 L467.1 265.4 L467.3 265.4 L467.5 265.4 L467.7 265.4 L467.9 265.4 L468.1 265.4 L468.3 265.4 L468.5 265.4 L468.7 265.4 L468.9 265.4 L469.1 265.4 L469.3 265.4 L469.5 265.4 L469.7 265.4 L469.9 265.4 L470.0 265.4 L470.2 265.4 L470.4 265.4 L470.6 265.4 L470.8 265.4 L471.0 265.4 L471.2 265.4 L471.4 265.4 L471.6 265.4 L471.8 265.4 L472.0 265.4 L472.2 265.4 L472.4 265.4 L472.6 265.4 L472.8 265.4 L473.0 265.4 L473.2 265.4 L473.4 265.4 L473.6 265.4 L473.8 265.4 L474.0 265.4 L474.2 265.4 L474.4 265.4 L474.6 265.4 L474.8 265.4 L475.0 265.4 L475.2 265.4 L475.4 265.4 L475.6 265.4 L475.8 265.4 L476.0 265.4 L476.1 265.4 L476.3 265.4 L476.5 265.4 L476.7 265.4 L476.9 265.4 L477.1 265.4 L477.3 265.4 L477.5 265.4 L477.7 265.4 L477.9 265.4 L478.1 265.4 L478.3 265.4 L478.5 265.4 L478.7 265.4 L478.9 265.4 L479.1 265.4 L479.3 265.4 L479.5 265.4 L479.7 265.4 L479.9 265.4 L480.1 265.4 L480.3 265.4 L480.5 265.4 L480.7 265.4 L480.9 265.4 L481.1 265.4 L481.3 265.4 L481.5 265.4 L481.7 265.4 L481.9 265.4 L482.0 265.4 L482.2 265.4 L482.4 265.4 L482.6 265.4 L482.8 265.4 L483.0 265.4 L483.2 265.4 L483.4 265.4 L483.6 265.4 L483.8 265.4 L484.0 265.4 L484.2 265.4 L484.4 265.4 L484.6 265.4 L484.8 265.4 L485.0 265.4 L485.2 265.4 L485.4 265.4 L485.6 265.4 L485.8 265.4 L486.0 265.4 L486.2 265.4 L486.4 265.4 L486.6 265.4 L486.8 265.4 L487.0 265.4 L487.2 265.4 L487.4 265.4 L487.6 265.4 L487.8 265.4 L488.0 265.4 L488.1 265.4 L488.3 265.4 L488.5 265.4 L488.7 265.4 L488.9 265.4 L489.1 265.4 L489.3 265.4 L489.5 265.4 L489.7 265.4 L489.9 265.4 L490.1 265.4 L490.3 265.4 L490.5 265.4 L490.7 265.4 L490.9 265.4 L491.1 265.4 L491.3 265.4 L491.5 265.4 L491.7 265.4 L491.9 265.4 L492.1 265.4 L492.3 265.4 L492.5 265.4 L492.7 265.4 L492.9 265.4 L493.1 265.4 L493.3 265.4 L493.5 265.4 L493.7 265.4 L493.9 265.4 L494.1 265.4 L494.2 265.4 L494.4 265.4 L494.6 265.4 L494.8 265.4 L495.0 265.4 L495.2 265.4 L495.4 265.4 L495.6 265.4 L495.8 265.4 L496.0 265.4 L496.2 265.4 L496.4 265.4 L496.6 265.4 L496.8 265.4 L497.0 265.4 L497.2 265.4 L497.4 265.4 L497.6 265.4 L497.8 265.4 L498.0 265.4 L498.2 265.4 L498.4 265.4 L498.6 265.4 L498.8 265.4 L499.0 265.4 L499.2 265.4 L499.4 265.4 L499.6 265.4 L499.8 265.4 L500.0 265.4 L500.1 265.4 L500.3 265.4 L500.5 265.4 L500.7 265.4 L500.9 265.4 L501.1 265.4 L501.3 265.4 L501.5 265.4 L501.7 265.4 L501.9 265.4 L502.1 265.4 L502.3 265.4 L502.5 265.4 L502.7 265.4 L502.9 265.4 L503.1 265.4 L503.3 265.4 L503.5 265.4 L503.7 265.4 L503.9 265.4 L504.1 265.4 L504.3 265.4 L504.5 265.4 L504.7 265.4 L504.9 265.4 L505.1 265.4 L505.3 265.4 L505.5 265.4 L505.7 265.4 L505.9 265.4 L506.1 265.4 L506.2 265.4 L506.4 265.4 L506.6 265.4 L506.8 265.4 L507.0 265.4 L507.2 265.4 L507.4 265.4 L507.6 265.4 L507.8 265.4 L508.0 265.4 L508.2 265.4 L508.4 265.4 L508.6 265.4 L508.8 265.4 L509.0 265.4" fill="none" stroke="#8a8a8a" stroke-width="1.6" stroke-linejoin="miter" stroke-miterlimit="2"/>
<rect x="307.65" y="168.4" width="201.5" height="97.0" fill="none" stroke="#0a0a0a" stroke-width="1.6"/>
<path d="M307.65 167.6V266.5" fill="none" stroke="#0a0a0a" stroke-width="2"/>
<path d="M306.65 265.4H509.90000000000003" fill="none" stroke="#0a0a0a" stroke-width="2.3"/>
<path d="M301.6 168.40H307.65M304.0 174.46H307.65M304.0 180.53H307.65M304.0 186.59H307.65M301.6 192.65H307.65M304.0 198.71H307.65M304.0 204.77H307.65M304.0 210.84H307.65M301.6 216.90H307.65M304.0 222.96H307.65M304.0 229.02H307.65M304.0 235.09H307.65M301.6 241.15H307.65M304.0 247.21H307.65M304.0 253.27H307.65M304.0 259.34H307.65M301.6 265.40H307.65" stroke="#0a0a0a" stroke-width="1.3" fill="none"/>
<text x="299.3" y="171.1" font-size="10" text-anchor="end">146</text>
<text x="299.3" y="195.3" font-size="10" text-anchor="end">110</text>
<text x="299.3" y="219.6" font-size="10" text-anchor="end">73</text>
<text x="299.3" y="243.8" font-size="10" text-anchor="end">37</text>
<text x="299.3" y="268.1" font-size="10" text-anchor="end">0</text>
<path d="M307.65 265.4V271.0M322.81 265.4V269.4M331.68 265.4V269.4M337.97 265.4V269.4M342.85 265.4V269.4M346.84 265.4V269.4M350.21 265.4V269.4M353.13 265.4V269.4M355.71 265.4V269.4M358.01 265.4V271.0M373.17 265.4V269.4M382.04 265.4V269.4M388.33 265.4V269.4M393.21 265.4V269.4M397.20 265.4V269.4M400.57 265.4V269.4M403.49 265.4V269.4M406.07 265.4V269.4M408.38 265.4V271.0M423.54 265.4V269.4M432.40 265.4V269.4M438.70 265.4V269.4M443.58 265.4V269.4M447.56 265.4V269.4M450.94 265.4V269.4M453.86 265.4V269.4M456.43 265.4V269.4M458.74 265.4V271.0M473.90 265.4V269.4M482.77 265.4V269.4M489.06 265.4V269.4M493.94 265.4V269.4M497.93 265.4V269.4M501.30 265.4V269.4M504.22 265.4V269.4M506.80 265.4V269.4M509.10 265.4V271.0" stroke="#0a0a0a" stroke-width="1.3" fill="none"/>
<text x="307.9" y="285.7" font-size="10.4" text-anchor="middle">10</text>
<text x="313.4" y="282.3" font-size="9.8" text-anchor="start">0</text>
<text x="354.0" y="285.7" font-size="10.4" text-anchor="middle">10</text>
<text x="359.5" y="282.3" font-size="9.8" text-anchor="start">1</text>
<text x="404.4" y="285.7" font-size="10.4" text-anchor="middle">10</text>
<text x="410.4" y="282.3" font-size="9.8" text-anchor="start">2</text>
<text x="457.7" y="285.7" font-size="10.4" text-anchor="middle">10</text>
<text x="463.2" y="282.3" font-size="9.8" text-anchor="start">3</text>
<text x="508.3" y="285.7" font-size="10.4" text-anchor="middle">10</text>
<text x="513.8" y="282.3" font-size="9.8" text-anchor="start">4</text>
<text x="411" y="164" font-size="10.5" font-weight="bold" text-anchor="middle">Mouse Platelets</text>
<text transform="translate(279.9 222.1) rotate(-90)" font-size="10.4" text-anchor="middle">Fluorescence</text>
<text x="411" y="298.3" font-size="10" text-anchor="middle">CD68</text>
<path d="M307.7 432.4 L307.9 432.4 L308.1 432.4 L308.3 432.4 L308.5 432.4 L308.7 432.4 L308.9 432.4 L309.1 432.4 L309.3 432.4 L309.5 432.4 L309.7 432.4 L309.9 432.4 L310.0 432.4 L310.2 432.4 L310.4 432.4 L310.6 432.4 L310.8 432.4 L311.0 432.4 L311.2 432.4 L311.4 432.4 L311.6 432.4 L311.8 432.4 L312.0 432.4 L312.2 432.4 L312.4 432.4 L312.6 432.4 L312.8 432.4 L313.0 432.4 L313.2 432.4 L313.4 432.4 L313.6 432.4 L313.8 432.4 L314.0 432.4 L314.2 432.4 L314.4 432.4 L314.5 432.4 L314.7 432.4 L314.9 432.4 L315.1 432.4 L315.3 432.4 L315.5 432.4 L315.7 432.4 L315.9 432.4 L316.1 432.4 L316.3 432.4 L316.5 432.4 L316.7 432.4 L316.9 432.4 L317.1 432.4 L317.3 432.4 L317.5 432.4 L317.7 432.4 L317.9 432.4 L318.1 432.4 L318.3 432.4 L318.5 432.4 L318.7 432.4 L318.9 432.4 L319.0 432.4 L319.2 432.4 L319.4 432.4 L319.6 432.4 L319.8 432.4 L320.0 432.4 L320.2 432.4 L320.4 432.4 L320.6 432.4 L320.8 432.4 L321.0 432.4 L321.2 432.4 L321.4 432.4 L321.6 432.4 L321.8 432.4 L322.0 432.4 L322.2 432.4 L322.4 432.4 L322.6 432.4 L322.8 432.4 L323.0 432.4 L323.2 432.4 L323.4 432.4 L323.5 432.4 L323.7 432.4 L323.9 432.4 L324.1 432.4 L324.3 432.4 L324.5 432.4 L324.7 432.4 L324.9 432.4 L325.1 432.4 L325.3 432.4 L325.5 432.4 L325.7 432.4 L325.9 432.4 L326.1 432.4 L326.3 432.4 L326.5 432.4 L326.7 432.4 L326.9 432.4 L327.1 432.4 L327.3 432.4 L327.5 432.4 L327.7 432.4 L327.9 432.4 L328.1 432.4 L328.2 432.4 L328.4 432.4 L328.6 432.4 L328.8 432.4 L329.0 432.4 L329.2 432.4 L329.4 432.4 L329.6 432.4 L329.8 432.4 L330.0 432.4 L330.2 432.4 L330.4 432.4 L330.6 432.4 L330.8 432.4 L331.0 432.4 L331.2 432.4 L331.4 432.4 L331.6 432.4 L331.8 432.4 L332.0 432.4 L332.2 432.4 L332.4 432.4 L332.6 432.4 L332.7 431.7 L332.9 432.4 L333.1 431.7 L333.3 432.4 L333.5 432.4 L333.7 432.4 L333.9 432.4 L334.1 432.4 L334.3 431.7 L334.5 432.4 L334.7 431.7 L334.9 432.4 L335.1 431.7 L335.3 432.4 L335.5 432.4 L335.7 432.4 L335.9 432.4 L336.1 432.4 L336.3 432.4 L336.5 431.7 L336.7 431.7 L336.9 431.7 L337.1 432.4 L337.2 431.7 L337.4 432.4 L337.6 432.4 L337.8 432.4 L338.0 431.7 L338.2 431.7 L338.4 431.7 L338.6 431.7 L338.8 431.7 L339.0 431.7 L339.2 432.4 L339.4 432.4 L339.6 431.7 L339.8 432.4 L340.0 431.7 L340.2 431.7 L340.4 431.7 L340.6 431.7 L340.8 432.4 L341.0 431.7 L341.2 431.7 L341.4 432.4 L341.6 432.4 L341.8 432.4 L341.9 432.4 L342.1 432.4 L342.3 430.9 L342.5 432.4 L342.7 432.4 L342.9 431.7 L343.1 430.2 L343.3 432.4 L343.5 430.9 L343.7 431.7 L343.9 431.7 L344.1 431.7 L344.3 430.9 L344.5 430.9 L344.7 430.9 L344.9 432.4 L345.1 430.9 L345.3 432.4 L345.5 430.2 L345.7 432.4 L345.9 430.9 L346.1 430.9 L346.3 432.4 L346.4 431.7 L346.6 432.4 L346.8 432.4 L347.0 430.9 L347.2 431.7 L347.4 431.7 L347.6 430.2 L347.8 430.9 L348.0 431.7 L348.2 431.7 L348.4 431.7 L348.6 429.5 L348.8 431.7 L349.0 431.7 L349.2 432.4 L349.4 432.4 L349.6 431.7 L349.8 431.7 L350.0 430.9 L350.2 429.5 L350.4 429.5 L350.6 432.4 L350.8 432.4 L350.9 431.7 L351.1 427.2 L351.3 430.9 L351.5 430.9 L351.7 430.9 L351.9 431.7 L352.1 430.2 L352.3 430.2 L352.5 428.7 L352.7 430.2 L352.9 430.9 L353.1 428.7 L353.3 428.7 L353.5 430.2 L353.7 429.5 L353.9 430.9 L354.1 430.9 L354.3 428.7 L354.5 430.9 L354.7 429.5 L354.9 430.9 L355.1 430.9 L355.3 428.7 L355.4 428.7 L355.6 430.9 L355.8 430.9 L356.0 427.2 L356.2 428.0 L356.4 431.7 L356.6 428.7 L356.8 430.2 L357.0 429.5 L357.2 431.7 L357.4 428.0 L357.6 428.0 L357.8 428.0 L358.0 429.5 L358.2 430.2 L358.4 430.9 L358.6 426.5 L358.8 430.9 L359.0 427.2 L359.2 429.5 L359.4 430.2 L359.6 428.0 L359.8 426.5 L360.0 428.0 L360.1 428.0 L360.3 425.0 L360.5 425.8 L360.7 425.8 L360.9 428.0 L361.1 429.5 L361.3 425.8 L361.5 428.7 L361.7 431.7 L361.9 431.7 L362.1 425.0 L362.3 428.0 L362.5 428.7 L362.7 424.3 L362.9 426.5 L363.1 428.0 L363.3 428.0 L363.5 425.8 L363.7 428.0 L363.9 428.0 L364.1 425.8 L364.3 428.7 L364.5 430.9 L364.6 427.2 L364.8 423.6 L365.0 419.9 L365.2 425.0 L365.4 428.0 L365.6 426.5 L365.8 425.0 L366.0 424.3 L366.2 422.8 L366.4 426.5 L366.6 424.3 L366.8 426.5 L367.0 426.5 L367.2 422.8 L367.4 424.3 L367.6 423.6 L367.8 426.5 L368.0 423.6 L368.2 424.3 L368.4 419.9 L368.6 422.1 L368.8 425.8 L369.0 425.0 L369.1 423.6 L369.3 423.6 L369.5 424.3 L369.7 428.0 L369.9 422.8 L370.1 422.1 L370.3 421.3 L370.5 425.8 L370.7 425.0 L370.9 423.6 L371.1 424.3 L371.3 418.4 L371.5 421.3 L371.7 419.1 L371.9 419.1 L372.1 420.6 L372.3 415.5 L372.5 419.9 L372.7 416.2 L372.9 418.4 L373.1 419.1 L373.3 419.1 L373.5 424.3 L373.6 422.1 L373.8 424.3 L374.0 416.2 L374.2 420.6 L374.4 420.6 L374.6 419.1 L374.8 415.5 L375.0 414.7 L375.2 416.2 L375.4 417.7 L375.6 414.7 L375.8 414.7 L376.0 417.7 L376.2 419.9 L376.4 424.3 L376.6 420.6 L376.8 411.8 L377.0 422.8 L377.2 409.6 L377.4 414.7 L377.6 417.7 L377.8 415.5 L378.0 411.0 L378.2 411.8 L378.3 413.2 L378.5 413.2 L378.7 408.1 L378.9 413.2 L379.1 408.8 L379.3 408.1 L379.5 402.2 L379.7 413.2 L379.9 408.1 L380.1 411.0 L380.3 411.8 L380.5 408.8 L380.7 403.7 L380.9 411.0 L381.1 411.0 L381.3 410.3 L381.5 402.2 L381.7 399.2 L381.9 397.8 L382.1 410.3 L382.3 407.3 L382.5 403.7 L382.7 415.5 L382.8 404.4 L383.0 393.3 L383.2 400.7 L383.4 404.4 L383.6 403.7 L383.8 409.6 L384.0 410.3 L384.2 397.0 L384.4 405.1 L384.6 404.4 L384.8 395.6 L385.0 396.3 L385.2 394.8 L385.4 399.2 L385.6 394.1 L385.8 388.2 L386.0 391.9 L386.2 382.3 L386.4 403.7 L386.6 394.8 L386.8 393.3 L387.0 388.2 L387.2 395.6 L387.3 391.1 L387.5 392.6 L387.7 399.2 L387.9 391.1 L388.1 383.8 L388.3 398.5 L388.5 383.8 L388.7 400.0 L388.9 388.2 L389.1 387.5 L389.3 386.0 L389.5 383.0 L389.7 387.5 L389.9 388.2 L390.1 391.9 L390.3 379.3 L390.5 382.3 L390.7 389.7 L390.9 389.7 L391.1 388.2 L391.3 389.7 L391.5 383.0 L391.7 366.1 L391.9 377.1 L392.0 396.3 L392.2 380.1 L392.4 386.7 L392.6 382.3 L392.8 389.7 L393.0 383.8 L393.2 380.1 L393.4 391.1 L393.6 386.0 L393.8 386.0 L394.0 388.2 L394.2 380.8 L394.4 382.3 L394.6 383.0 L394.8 388.9 L395.0 386.0 L395.2 380.8 L395.4 380.8 L395.6 392.6 L395.8 384.5 L396.0 385.2 L396.2 379.3 L396.4 388.2 L396.5 389.7 L396.7 383.8 L396.9 388.2 L397.1 388.2 L397.3 391.1 L397.5 380.8 L397.7 379.3 L397.9 377.9 L398.1 384.5 L398.3 386.7 L398.5 391.9 L398.7 383.0 L398.9 392.6 L399.1 398.5 L399.3 397.0 L399.5 389.7 L399.7 400.7 L399.9 384.5 L400.1 388.2 L400.3 391.1 L400.5 392.6 L400.7 393.3 L400.9 394.1 L401.0 390.4 L401.2 395.6 L401.4 392.6 L401.6 387.5 L401.8 390.4 L402.0 404.4 L402.2 394.8 L402.4 397.0 L402.6 397.8 L402.8 392.6 L403.0 400.0 L403.2 399.2 L403.4 407.3 L403.6 406.6 L403.8 400.7 L404.0 408.8 L404.2 397.8 L404.4 408.8 L404.6 405.1 L404.8 411.0 L405.0 400.0 L405.2 401.5 L405.4 403.7 L405.5 407.3 L405.7 403.7 L405.9 408.8 L406.1 400.0 L406.3 407.3 L406.5 412.5 L406.7 413.2 L406.9 409.6 L407.1 408.8 L407.3 414.0 L407.5 410.3 L407.7 416.9 L407.9 408.1 L408.1 410.3 L408.3 410.3 L408.5 416.2 L408.7 409.6 L408.9 414.7 L409.1 411.8 L409.3 413.2 L409.5 414.0 L409.7 419.9 L409.9 417.7 L410.1 412.5 L410.2 417.7 L410.4 419.1 L410.6 421.3 L410.8 421.3 L411.0 419.1 L411.2 411.8 L411.4 414.0 L411.6 419.1 L411.8 419.1 L412.0 421.3 L412.2 411.8 L412.4 419.1 L412.6 417.7 L412.8 415.5 L413.0 417.7 L413.2 421.3 L413.4 422.1 L413.6 419.1 L413.8 423.6 L414.0 425.0 L414.2 421.3 L414.4 424.3 L414.6 418.4 L414.7 421.3 L414.9 422.1 L415.1 422.1 L415.3 425.0 L415.5 428.7 L415.7 425.0 L415.9 424.3 L416.1 424.3 L416.3 425.8 L416.5 427.2 L416.7 428.0 L416.9 425.8 L417.1 421.3 L417.3 422.1 L417.5 428.0 L417.7 426.5 L417.9 426.5 L418.1 430.9 L418.3 424.3 L418.5 425.8 L418.7 427.2 L418.9 423.6 L419.1 428.0 L419.2 428.0 L419.4 428.0 L419.6 425.8 L419.8 425.8 L420.0 426.5 L420.2 428.0 L420.4 428.0 L420.6 425.8 L420.8 428.0 L421.0 425.0 L421.2 428.0 L421.4 429.5 L421.6 428.0 L421.8 427.2 L422.0 425.0 L422.2 427.2 L422.4 429.5 L422.6 428.0 L422.8 428.0 L423.0 428.7 L423.2 430.2 L423.4 426.5 L423.6 431.7 L423.7 430.2 L423.9 427.2 L424.1 430.2 L424.3 428.0 L424.5 425.0 L424.7 430.2 L424.9 429.5 L425.1 430.9 L425.3 432.4 L425.5 428.7 L425.7 430.2 L425.9 430.2 L426.1 431.7 L426.3 429.5 L426.5 428.7 L426.7 430.9 L426.9 430.9 L427.1 428.7 L427.3 428.7 L427.5 430.2 L427.7 430.9 L427.9 430.2 L428.1 430.9 L428.3 428.7 L428.4 430.2 L428.6 431.7 L428.8 432.4 L429.0 430.9 L429.2 430.9 L429.4 430.9 L429.6 429.5 L429.8 430.2 L430.0 430.9 L430.2 430.2 L430.4 430.9 L430.6 431.7 L430.8 429.5 L431.0 430.9 L431.2 430.9 L431.4 431.7 L431.6 431.7 L431.8 432.4 L432.0 430.9 L432.2 430.2 L432.4 430.2 L432.6 429.5 L432.8 431.7 L432.9 431.7 L433.1 430.9 L433.3 432.4 L433.5 432.4 L433.7 432.4 L433.9 431.7 L434.1 430.2 L434.3 431.7 L434.5 430.9 L434.7 431.7 L434.9 431.7 L435.1 432.4 L435.3 430.9 L435.5 430.9 L435.7 432.4 L435.9 432.4 L436.1 430.9 L436.3 432.4 L436.5 432.4 L436.7 431.7 L436.9 432.4 L437.1 431.7 L437.3 430.9 L437.4 431.7 L437.6 432.4 L437.8 431.7 L438.0 431.7 L438.2 432.4 L438.4 432.4 L438.6 431.7 L438.8 432.4 L439.0 431.7 L439.2 430.9 L439.4 431.7 L439.6 432.4 L439.8 431.7 L440.0 432.4 L440.2 431.7 L440.4 431.7 L440.6 432.4 L440.8 431.7 L441.0 432.4 L441.2 432.4 L441.4 432.4 L441.6 432.4 L441.8 430.9 L442.0 431.7 L442.1 432.4 L442.3 432.4 L442.5 432.4 L442.7 432.4 L442.9 432.4 L443.1 432.4 L443.3 432.4 L443.5 432.4 L443.7 432.4 L443.9 432.4 L444.1 432.4 L444.3 432.4 L444.5 432.4 L444.7 432.4 L444.9 432.4 L445.1 432.4 L445.3 432.4 L445.5 432.4 L445.7 432.4 L445.9 432.4 L446.1 432.4 L446.3 432.4 L446.5 432.4 L446.6 432.4 L446.8 432.4 L447.0 432.4 L447.2 432.4 L447.4 432.4 L447.6 432.4 L447.8 432.4 L448.0 432.4 L448.2 432.4 L448.4 432.4 L448.6 432.4 L448.8 432.4 L449.0 432.4 L449.2 432.4 L449.4 432.4 L449.6 432.4 L449.8 432.4 L450.0 432.4 L450.2 432.4 L450.4 432.4 L450.6 432.4 L450.8 432.4 L451.0 432.4 L451.1 432.4 L451.3 432.4 L451.5 432.4 L451.7 432.4 L451.9 432.4 L452.1 432.4 L452.3 432.4 L452.5 432.4 L452.7 432.4 L452.9 432.4 L453.1 432.4 L453.3 432.4 L453.5 432.4 L453.7 432.4 L453.9 432.4 L454.1 432.4 L454.3 432.4 L454.5 432.4 L454.7 432.4 L454.9 432.4 L455.1 432.4 L455.3 432.4 L455.5 432.4 L455.6 432.4 L455.8 432.4 L456.0 432.4 L456.2 432.4 L456.4 432.4 L456.6 432.4 L456.8 432.4 L457.0 432.4 L457.2 432.4 L457.4 432.4 L457.6 432.4 L457.8 432.4 L458.0 432.4 L458.2 432.4 L458.4 432.4 L458.6 432.4 L458.8 432.4 L459.0 432.4 L459.2 432.4 L459.4 432.4 L459.6 432.4 L459.8 432.4 L460.0 432.4 L460.2 432.4 L460.3 432.4 L460.5 432.4 L460.7 432.4 L460.9 432.4 L461.1 432.4 L461.3 432.4 L461.5 432.4 L461.7 432.4 L461.9 432.4 L462.1 432.4 L462.3 432.4 L462.5 432.4 L462.7 432.4 L462.9 432.4 L463.1 432.4 L463.3 432.4 L463.5 432.4 L463.7 432.4 L463.9 432.4 L464.1 432.4 L464.3 432.4 L464.5 432.4 L464.7 432.4 L464.8 432.4 L465.0 432.4 L465.2 432.4 L465.4 432.4 L465.6 432.4 L465.8 432.4 L466.0 432.4 L466.2 432.4 L466.4 432.4 L466.6 432.4 L466.8 432.4 L467.0 432.4 L467.2 432.4 L467.4 432.4 L467.6 432.4 L467.8 432.4 L468.0 432.4 L468.2 432.4 L468.4 432.4 L468.6 432.4 L468.8 432.4 L469.0 432.4 L469.2 432.4 L469.3 432.4 L469.5 432.4 L469.7 432.4 L469.9 432.4 L470.1 432.4 L470.3 432.4 L470.5 432.4 L470.7 432.4 L470.9 432.4 L471.1 432.4 L471.3 432.4 L471.5 432.4 L471.7 432.4 L471.9 432.4 L472.1 432.4 L472.3 432.4 L472.5 432.4 L472.7 432.4 L472.9 432.4 L473.1 432.4 L473.3 432.4 L473.5 432.4 L473.7 432.4 L473.8 432.4 L474.0 432.4 L474.2 432.4 L474.4 432.4 L474.6 432.4 L474.8 432.4 L475.0 432.4 L475.2 432.4 L475.4 432.4 L475.6 432.4 L475.8 432.4 L476.0 432.4 L476.2 432.4 L476.4 432.4 L476.6 432.4 L476.8 432.4 L477.0 432.4 L477.2 432.4 L477.4 432.4 L477.6 432.4 L477.8 432.4 L478.0 432.4 L478.2 432.4 L478.4 432.4 L478.5 432.4 L478.7 432.4 L478.9 432.4 L479.1 432.4 L479.3 432.4 L479.5 432.4 L479.7 432.4 L479.9 432.4 L480.1 432.4 L480.3 432.4 L480.5 432.4 L480.7 432.4 L480.9 432.4 L481.1 432.4 L481.3 432.4 L481.5 432.4 L481.7 432.4 L481.9 432.4 L482.1 432.4 L482.3 432.4 L482.5 432.4 L482.7 432.4 L482.9 432.4 L483.0 432.4 L483.2 432.4 L483.4 432.4 L483.6 432.4 L483.8 432.4 L484.0 432.4 L484.2 432.4 L484.4 432.4 L484.6 432.4 L484.8 432.4 L485.0 432.4 L485.2 432.4 L485.4 432.4 L485.6 432.4 L485.8 432.4 L486.0 432.4 L486.2 432.4 L486.4 432.4 L486.6 432.4 L486.8 432.4 L487.0 432.4 L487.2 432.4 L487.4 432.4 L487.5 432.4 L487.7 432.4 L487.9 432.4 L488.1 432.4 L488.3 432.4 L488.5 432.4 L488.7 432.4 L488.9 432.4 L489.1 432.4 L489.3 432.4 L489.5 432.4 L489.7 432.4 L489.9 432.4 L490.1 432.4 L490.3 432.4 L490.5 432.4 L490.7 432.4 L490.9 432.4 L491.1 432.4 L491.3 432.4 L491.5 432.4 L491.7 432.4 L491.9 432.4 L492.1 432.4 L492.2 432.4 L492.4 432.4 L492.6 432.4 L492.8 432.4 L493.0 432.4 L493.2 432.4 L493.4 432.4 L493.6 432.4 L493.8 432.4 L494.0 432.4 L494.2 432.4 L494.4 432.4 L494.6 432.4 L494.8 432.4 L495.0 432.4 L495.2 432.4 L495.4 432.4 L495.6 432.4 L495.8 432.4 L496.0 432.4 L496.2 432.4 L496.4 432.4 L496.6 432.4 L496.7 432.4 L496.9 432.4 L497.1 432.4 L497.3 432.4 L497.5 432.4 L497.7 432.4 L497.9 432.4 L498.1 432.4 L498.3 432.4 L498.5 432.4 L498.7 432.4 L498.9 432.4 L499.1 432.4 L499.3 432.4 L499.5 432.4 L499.7 432.4 L499.9 432.4 L500.1 432.4 L500.3 432.4 L500.5 432.4 L500.7 432.4 L500.9 432.4 L501.1 432.4 L501.2 432.4 L501.4 432.4 L501.6 432.4 L501.8 432.4 L502.0 432.4 L502.2 432.4 L502.4 432.4 L502.6 432.4 L502.8 432.4 L503.0 432.4 L503.2 432.4 L503.4 432.4 L503.6 432.4 L503.8 432.4 L504.0 432.4 L504.2 432.4 L504.4 432.4 L504.6 432.4 L504.8 432.4 L505.0 432.4 L505.2 432.4 L505.4 432.4 L505.6 432.4 L505.7 432.4 L505.9 432.4 L506.1 432.4 L506.3 432.4 L506.5 432.4 L506.7 432.4 L506.9 432.4 L507.1 432.4 L507.3 432.4 L507.5 432.4 L507.7 432.4 L507.9 432.4" fill="none" stroke="#8a8a8a" stroke-width="1.4" stroke-linejoin="miter" stroke-miterlimit="2"/>
<path d="M307.7 432.4 L307.9 430.1 L308.1 430.1 L308.3 430.1 L308.5 431.2 L308.7 428.9 L308.9 430.1 L309.1 427.8 L309.3 432.4 L309.5 432.4 L309.7 430.1 L309.9 430.1 L310.0 431.2 L310.2 432.4 L310.4 432.4 L310.6 431.2 L310.8 431.2 L311.0 430.1 L311.2 430.1 L311.4 431.2 L311.6 430.1 L311.8 431.2 L312.0 431.2 L312.2 432.4 L312.4 431.2 L312.6 427.8 L312.8 430.1 L313.0 427.8 L313.2 428.9 L313.4 432.4 L313.6 432.4 L313.8 431.2 L314.0 430.1 L314.2 430.1 L314.4 430.1 L314.5 430.1 L314.7 427.8 L314.9 432.4 L315.1 427.8 L315.3 428.9 L315.5 430.1 L315.7 430.1 L315.9 428.9 L316.1 430.1 L316.3 431.2 L316.5 431.2 L316.7 428.9 L316.9 426.6 L317.1 427.8 L317.3 428.9 L317.5 428.9 L317.7 431.2 L317.9 430.1 L318.1 430.1 L318.3 428.9 L318.5 424.3 L318.7 427.8 L318.9 427.8 L319.0 424.3 L319.2 426.6 L319.4 428.9 L319.6 426.6 L319.8 423.2 L320.0 425.5 L320.2 428.9 L320.4 424.3 L320.6 426.6 L320.8 428.9 L321.0 422.0 L321.2 426.6 L321.4 420.9 L321.6 426.6 L321.8 424.3 L322.0 424.3 L322.2 422.0 L322.4 414.0 L322.6 417.4 L322.8 416.3 L323.0 426.6 L323.2 414.0 L323.4 417.4 L323.5 417.4 L323.7 414.0 L323.9 414.0 L324.1 410.5 L324.3 408.2 L324.5 416.3 L324.7 407.1 L324.9 417.4 L325.1 400.2 L325.3 395.6 L325.5 407.1 L325.7 407.1 L325.9 403.6 L326.1 395.6 L326.3 401.3 L326.5 388.6 L326.7 387.5 L326.9 392.1 L327.1 401.3 L327.3 392.1 L327.5 394.4 L327.7 385.2 L327.9 381.7 L328.1 377.1 L328.2 376.0 L328.4 378.3 L328.6 385.2 L328.8 362.2 L329.0 370.2 L329.2 385.2 L329.4 365.6 L329.6 378.3 L329.8 376.0 L330.0 367.9 L330.2 357.6 L330.4 373.7 L330.6 355.3 L330.8 353.0 L331.0 350.7 L331.2 358.7 L331.4 361.0 L331.6 363.3 L331.8 355.3 L332.0 371.4 L332.2 346.1 L332.4 359.9 L332.6 372.5 L332.7 354.1 L332.9 334.5 L333.1 343.7 L333.3 349.5 L333.5 339.1 L333.7 355.3 L333.9 341.4 L334.1 348.4 L334.3 355.3 L334.5 362.2 L334.7 369.1 L334.9 343.7 L335.1 357.6 L335.3 363.3 L335.5 334.4 L335.7 347.2 L335.9 354.1 L336.1 366.8 L336.3 356.4 L336.5 361.0 L336.7 353.0 L336.9 341.4 L337.1 350.7 L337.2 358.7 L337.4 377.1 L337.6 369.1 L337.8 364.5 L338.0 362.2 L338.2 372.5 L338.4 373.7 L338.6 382.9 L338.8 372.5 L339.0 378.3 L339.2 378.3 L339.4 370.2 L339.6 369.1 L339.8 382.9 L340.0 377.1 L340.2 382.9 L340.4 379.4 L340.6 370.2 L340.8 389.8 L341.0 385.2 L341.2 393.3 L341.4 393.3 L341.6 389.8 L341.8 395.6 L341.9 395.6 L342.1 395.6 L342.3 401.3 L342.5 389.8 L342.7 405.9 L342.9 401.3 L343.1 397.9 L343.3 403.6 L343.5 411.7 L343.7 401.3 L343.9 409.4 L344.1 418.6 L344.3 414.0 L344.5 410.5 L344.7 411.7 L344.9 409.4 L345.1 417.4 L345.3 402.5 L345.5 408.2 L345.7 415.1 L345.9 420.9 L346.1 417.4 L346.3 419.7 L346.4 416.3 L346.6 416.3 L346.8 417.4 L347.0 424.3 L347.2 417.4 L347.4 423.2 L347.6 428.9 L347.8 419.7 L348.0 427.8 L348.2 425.5 L348.4 422.0 L348.6 418.6 L348.8 422.0 L349.0 423.2 L349.2 425.5 L349.4 425.5 L349.6 424.3 L349.8 416.3 L350.0 423.2 L350.2 420.9 L350.4 425.5 L350.6 423.2 L350.8 419.7 L350.9 422.0 L351.1 423.2 L351.3 425.5 L351.5 419.7 L351.7 416.3 L351.9 423.2 L352.1 423.2 L352.3 425.5 L352.5 428.9 L352.7 418.6 L352.9 416.3 L353.1 416.3 L353.3 419.7 L353.5 426.6 L353.7 415.1 L353.9 426.6 L354.1 420.9 L354.3 425.5 L354.5 431.2 L354.7 419.7 L354.9 422.0 L355.1 422.0 L355.3 419.7 L355.4 424.3 L355.6 418.6 L355.8 408.2 L356.0 422.0 L356.2 419.7 L356.4 423.2 L356.6 422.0 L356.8 422.0 L357.0 419.7 L357.2 415.1 L357.4 417.4 L357.6 425.5 L357.8 415.1 L358.0 423.2 L358.2 423.2 L358.4 418.6 L358.6 418.6 L358.8 422.0 L359.0 419.7 L359.2 418.6 L359.4 420.9 L359.6 425.5 L359.8 419.7 L360.0 422.0 L360.1 423.2 L360.3 424.3 L360.5 415.1 L360.7 420.9 L360.9 428.9 L361.1 423.2 L361.3 420.9 L361.5 422.0 L361.7 425.5 L361.9 418.6 L362.1 420.9 L362.3 427.8 L362.5 424.3 L362.7 427.8 L362.9 425.5 L363.1 426.6 L363.3 425.5 L363.5 424.3 L363.7 425.5 L363.9 418.6 L364.1 424.3 L364.3 427.8 L364.5 427.8 L364.6 428.9 L364.8 427.8 L365.0 430.1 L365.2 425.5 L365.4 427.8 L365.6 425.5 L365.8 425.5 L366.0 428.9 L366.2 431.2 L366.4 431.2 L366.6 430.1 L366.8 430.1 L367.0 427.8 L367.2 427.8 L367.4 430.1 L367.6 427.8 L367.8 428.9 L368.0 428.9 L368.2 428.9 L368.4 430.1 L368.6 428.9 L368.8 427.8 L369.0 430.1 L369.1 430.1 L369.3 431.2 L369.5 432.4 L369.7 430.1 L369.9 430.1 L370.1 430.1 L370.3 428.9 L370.5 432.4 L370.7 432.4 L370.9 432.4 L371.1 431.2 L371.3 430.1 L371.5 430.1 L371.7 431.2 L371.9 432.4 L372.1 430.1 L372.3 431.2 L372.5 431.2 L372.7 431.2 L372.9 430.1 L373.1 426.6 L373.3 432.4 L373.5 431.2 L373.6 432.4 L373.8 432.4 L374.0 432.4 L374.2 432.4 L374.4 430.1 L374.6 431.2 L374.8 432.4 L375.0 428.9 L375.2 431.2 L375.4 430.1 L375.6 432.4 L375.8 432.4 L376.0 431.2 L376.2 431.2 L376.4 430.1 L376.6 432.4 L376.8 430.1 L377.0 431.2 L377.2 432.4 L377.4 431.2 L377.6 431.2 L377.8 432.4 L378.0 432.4 L378.2 431.2 L378.3 431.2 L378.5 432.4 L378.7 428.9 L378.9 432.4 L379.1 432.4 L379.3 431.2 L379.5 432.4 L379.7 431.2 L379.9 431.2 L380.1 432.4 L380.3 432.4 L380.5 432.4 L380.7 431.2 L380.9 432.4 L381.1 432.4 L381.3 431.2 L381.5 432.4 L381.7 431.2 L381.9 431.2 L382.1 432.4 L382.3 431.2 L382.5 431.2 L382.7 432.4 L382.8 432.4 L383.0 431.2 L383.2 432.4 L383.4 431.2 L383.6 431.2 L383.8 432.4 L384.0 431.2 L384.2 432.4 L384.4 432.4 L384.6 431.2 L384.8 431.2 L385.0 432.4 L385.2 430.1 L385.4 431.2 L385.6 432.4 L385.8 432.4 L386.0 432.4 L386.2 431.2 L386.4 430.1 L386.6 431.2 L386.8 432.4 L387.0 430.1 L387.2 432.4 L387.3 430.1 L387.5 431.2 L387.7 431.2 L387.9 432.4 L388.1 432.4 L388.3 432.4 L388.5 430.1 L388.7 431.2 L388.9 432.4 L389.1 430.1 L389.3 432.4 L389.5 430.1 L389.7 432.4 L389.9 432.4 L390.1 432.4 L390.3 432.4 L390.5 431.2 L390.7 431.2 L390.9 431.2 L391.1 432.4 L391.3 432.4 L391.5 432.4 L391.7 431.2 L391.9 432.4 L392.0 432.4 L392.2 432.4 L392.4 431.2 L392.6 430.1 L392.8 430.1 L393.0 432.4 L393.2 431.2 L393.4 432.4 L393.6 430.1 L393.8 432.4 L394.0 431.2 L394.2 430.1 L394.4 432.4 L394.6 431.2 L394.8 427.8 L395.0 432.4 L395.2 428.9 L395.4 428.9 L395.6 432.4 L395.8 432.4 L396.0 432.4 L396.2 431.2 L396.4 432.4 L396.5 432.4 L396.7 432.4 L396.9 432.4 L397.1 432.4 L397.3 432.4 L397.5 432.4 L397.7 432.4 L397.9 432.4 L398.1 432.4 L398.3 431.2 L398.5 431.2 L398.7 432.4 L398.9 430.1 L399.1 431.2 L399.3 430.1 L399.5 432.4 L399.7 431.2 L399.9 431.2 L400.1 432.4 L400.3 432.4 L400.5 430.1 L400.7 432.4 L400.9 431.2 L401.0 431.2 L401.2 431.2 L401.4 432.4 L401.6 432.4 L401.8 431.2 L402.0 430.1 L402.2 432.4 L402.4 431.2 L402.6 431.2 L402.8 431.2 L403.0 432.4 L403.2 430.1 L403.4 428.9 L403.6 431.2 L403.8 432.4 L404.0 430.1 L404.2 430.1 L404.4 432.4 L404.6 431.2 L404.8 432.4 L405.0 432.4 L405.2 431.2 L405.4 431.2 L405.5 432.4 L405.7 432.4 L405.9 431.2 L406.1 431.2 L406.3 432.4 L406.5 430.1 L406.7 432.4 L406.9 431.2 L407.1 430.1 L407.3 430.1 L407.5 432.4 L407.7 432.4 L407.9 432.4 L408.1 432.4 L408.3 432.4 L408.5 432.4 L408.7 432.4 L408.9 432.4 L409.1 432.4 L409.3 432.4 L409.5 432.4 L409.7 432.4 L409.9 432.4 L410.1 432.4 L410.2 432.4 L410.4 432.4 L410.6 432.4 L410.8 432.4 L411.0 432.4 L411.2 432.4 L411.4 432.4 L411.6 432.4 L411.8 432.4 L412.0 432.4 L412.2 432.4 L412.4 432.4 L412.6 432.4 L412.8 432.4 L413.0 432.4 L413.2 432.4 L413.4 432.4 L413.6 432.4 L413.8 432.4 L414.0 432.4 L414.2 432.4 L414.4 432.4 L414.6 432.4 L414.7 432.4 L414.9 432.4 L415.1 432.4 L415.3 432.4 L415.5 432.4 L415.7 432.4 L415.9 432.4 L416.1 432.4 L416.3 432.4 L416.5 432.4 L416.7 432.4 L416.9 432.4 L417.1 432.4 L417.3 432.4 L417.5 432.4 L417.7 432.4 L417.9 432.4 L418.1 432.4 L418.3 432.4 L418.5 432.4 L418.7 432.4 L418.9 432.4 L419.1 432.4 L419.2 432.4 L419.4 432.4 L419.6 432.4 L419.8 432.4 L420.0 432.4 L420.2 432.4 L420.4 432.4 L420.6 432.4 L420.8 432.4 L421.0 432.4 L421.2 432.4 L421.4 432.4 L421.6 432.4 L421.8 432.4 L422.0 432.4 L422.2 432.4 L422.4 432.4 L422.6 432.4 L422.8 432.4 L423.0 432.4 L423.2 432.4 L423.4 432.4 L423.6 432.4 L423.7 432.4 L423.9 432.4 L424.1 432.4 L424.3 432.4 L424.5 432.4 L424.7 432.4 L424.9 432.4 L425.1 432.4 L425.3 432.4 L425.5 432.4 L425.7 432.4 L425.9 432.4 L426.1 432.4 L426.3 432.4 L426.5 432.4 L426.7 432.4 L426.9 432.4 L427.1 432.4 L427.3 432.4 L427.5 432.4 L427.7 432.4 L427.9 432.4 L428.1 432.4 L428.3 432.4 L428.4 432.4 L428.6 432.4 L428.8 432.4 L429.0 432.4 L429.2 432.4 L429.4 432.4 L429.6 432.4 L429.8 432.4 L430.0 432.4 L430.2 432.4 L430.4 432.4 L430.6 432.4 L430.8 432.4 L431.0 432.4 L431.2 432.4 L431.4 432.4 L431.6 432.4 L431.8 432.4 L432.0 432.4 L432.2 432.4 L432.4 432.4 L432.6 432.4 L432.8 432.4 L432.9 432.4 L433.1 432.4 L433.3 432.4 L433.5 432.4 L433.7 432.4 L433.9 432.4 L434.1 432.4 L434.3 432.4 L434.5 432.4 L434.7 432.4 L434.9 432.4 L435.1 432.4 L435.3 432.4 L435.5 432.4 L435.7 432.4 L435.9 432.4 L436.1 432.4 L436.3 432.4 L436.5 432.4 L436.7 432.4 L436.9 432.4 L437.1 432.4 L437.3 432.4 L437.4 432.4 L437.6 432.4 L437.8 432.4 L438.0 432.4 L438.2 432.4 L438.4 432.4 L438.6 432.4 L438.8 432.4 L439.0 432.4 L439.2 432.4 L439.4 432.4 L439.6 432.4 L439.8 432.4 L440.0 432.4 L440.2 432.4 L440.4 432.4 L440.6 432.4 L440.8 432.4 L441.0 432.4 L441.2 432.4 L441.4 432.4 L441.6 432.4 L441.8 432.4 L442.0 432.4 L442.1 432.4 L442.3 432.4 L442.5 432.4 L442.7 432.4 L442.9 432.4 L443.1 432.4 L443.3 432.4 L443.5 432.4 L443.7 432.4 L443.9 432.4 L444.1 432.4 L444.3 432.4 L444.5 432.4 L444.7 432.4 L444.9 432.4 L445.1 432.4 L445.3 432.4 L445.5 432.4 L445.7 432.4 L445.9 432.4 L446.1 432.4 L446.3 432.4 L446.5 432.4 L446.6 432.4 L446.8 432.4 L447.0 432.4 L447.2 432.4 L447.4 432.4 L447.6 432.4 L447.8 432.4 L448.0 432.4 L448.2 432.4 L448.4 432.4 L448.6 432.4 L448.8 432.4 L449.0 432.4 L449.2 432.4 L449.4 432.4 L449.6 432.4 L449.8 432.4 L450.0 432.4 L450.2 432.4 L450.4 432.4 L450.6 432.4 L450.8 432.4 L451.0 432.4 L451.1 432.4 L451.3 432.4 L451.5 432.4 L451.7 432.4 L451.9 432.4 L452.1 432.4 L452.3 432.4 L452.5 432.4 L452.7 432.4 L452.9 432.4 L453.1 432.4 L453.3 432.4 L453.5 432.4 L453.7 432.4 L453.9 432.4 L454.1 432.4 L454.3 432.4 L454.5 432.4 L454.7 432.4 L454.9 432.4 L455.1 432.4 L455.3 432.4 L455.5 432.4 L455.6 432.4 L455.8 432.4 L456.0 432.4 L456.2 432.4 L456.4 432.4 L456.6 432.4 L456.8 432.4 L457.0 432.4 L457.2 432.4 L457.4 432.4 L457.6 432.4 L457.8 432.4 L458.0 432.4 L458.2 432.4 L458.4 432.4 L458.6 432.4 L458.8 432.4 L459.0 432.4 L459.2 432.4 L459.4 432.4 L459.6 432.4 L459.8 432.4 L460.0 432.4 L460.2 432.4 L460.3 432.4 L460.5 432.4 L460.7 432.4 L460.9 432.4 L461.1 432.4 L461.3 432.4 L461.5 432.4 L461.7 432.4 L461.9 432.4 L462.1 432.4 L462.3 432.4 L462.5 432.4 L462.7 432.4 L462.9 432.4 L463.1 432.4 L463.3 432.4 L463.5 432.4 L463.7 432.4 L463.9 432.4 L464.1 432.4 L464.3 432.4 L464.5 432.4 L464.7 432.4 L464.8 432.4 L465.0 432.4 L465.2 432.4 L465.4 432.4 L465.6 432.4 L465.8 432.4 L466.0 432.4 L466.2 432.4 L466.4 432.4 L466.6 432.4 L466.8 432.4 L467.0 432.4 L467.2 432.4 L467.4 432.4 L467.6 432.4 L467.8 432.4 L468.0 432.4 L468.2 432.4 L468.4 432.4 L468.6 432.4 L468.8 432.4 L469.0 432.4 L469.2 432.4 L469.3 432.4 L469.5 432.4 L469.7 432.4 L469.9 432.4 L470.1 432.4 L470.3 432.4 L470.5 432.4 L470.7 432.4 L470.9 432.4 L471.1 432.4 L471.3 432.4 L471.5 432.4 L471.7 432.4 L471.9 432.4 L472.1 432.4 L472.3 432.4 L472.5 432.4 L472.7 432.4 L472.9 432.4 L473.1 432.4 L473.3 432.4 L473.5 432.4 L473.7 432.4 L473.8 432.4 L474.0 432.4 L474.2 432.4 L474.4 432.4 L474.6 432.4 L474.8 432.4 L475.0 432.4 L475.2 432.4 L475.4 432.4 L475.6 432.4 L475.8 432.4 L476.0 432.4 L476.2 432.4 L476.4 432.4 L476.6 432.4 L476.8 432.4 L477.0 432.4 L477.2 432.4 L477.4 432.4 L477.6 432.4 L477.8 432.4 L478.0 432.4 L478.2 432.4 L478.4 432.4 L478.5 432.4 L478.7 432.4 L478.9 432.4 L479.1 432.4 L479.3 432.4 L479.5 432.4 L479.7 432.4 L479.9 432.4 L480.1 432.4 L480.3 432.4 L480.5 432.4 L480.7 432.4 L480.9 432.4 L481.1 432.4 L481.3 432.4 L481.5 432.4 L481.7 432.4 L481.9 432.4 L482.1 432.4 L482.3 432.4 L482.5 432.4 L482.7 432.4 L482.9 432.4 L483.0 432.4 L483.2 432.4 L483.4 432.4 L483.6 432.4 L483.8 432.4 L484.0 432.4 L484.2 432.4 L484.4 432.4 L484.6 432.4 L484.8 432.4 L485.0 432.4 L485.2 432.4 L485.4 432.4 L485.6 432.4 L485.8 432.4 L486.0 432.4 L486.2 432.4 L486.4 432.4 L486.6 432.4 L486.8 432.4 L487.0 432.4 L487.2 432.4 L487.4 432.4 L487.5 432.4 L487.7 432.4 L487.9 432.4 L488.1 432.4 L488.3 432.4 L488.5 432.4 L488.7 432.4 L488.9 432.4 L489.1 432.4 L489.3 432.4 L489.5 432.4 L489.7 432.4 L489.9 432.4 L490.1 432.4 L490.3 432.4 L490.5 432.4 L490.7 432.4 L490.9 432.4 L491.1 432.4 L491.3 432.4 L491.5 432.4 L491.7 432.4 L491.9 432.4 L492.1 432.4 L492.2 432.4 L492.4 432.4 L492.6 432.4 L492.8 432.4 L493.0 432.4 L493.2 432.4 L493.4 432.4 L493.6 432.4 L493.8 432.4 L494.0 432.4 L494.2 432.4 L494.4 432.4 L494.6 432.4 L494.8 432.4 L495.0 432.4 L495.2 432.4 L495.4 432.4 L495.6 432.4 L495.8 432.4 L496.0 432.4 L496.2 432.4 L496.4 432.4 L496.6 432.4 L496.7 432.4 L496.9 432.4 L497.1 432.4 L497.3 432.4 L497.5 432.4 L497.7 432.4 L497.9 432.4 L498.1 432.4 L498.3 432.4 L498.5 432.4 L498.7 432.4 L498.9 432.4 L499.1 432.4 L499.3 432.4 L499.5 432.4 L499.7 432.4 L499.9 432.4 L500.1 432.4 L500.3 432.4 L500.5 432.4 L500.7 432.4 L500.9 432.4 L501.1 432.4 L501.2 432.4 L501.4 432.4 L501.6 432.4 L501.8 432.4 L502.0 432.4 L502.2 432.4 L502.4 432.4 L502.6 432.4 L502.8 432.4 L503.0 432.4 L503.2 432.4 L503.4 432.4 L503.6 432.4 L503.8 432.4 L504.0 432.4 L504.2 432.4 L504.4 432.4 L504.6 432.4 L504.8 432.4 L505.0 432.4 L505.2 432.4 L505.4 432.4 L505.6 432.4 L505.7 432.4 L505.9 432.4 L506.1 432.4 L506.3 432.4 L506.5 432.4 L506.7 432.4 L506.9 432.4 L507.1 432.4 L507.3 432.4 L507.5 432.4 L507.7 432.4 L507.9 432.4" fill="none" stroke="#0a0a0a" stroke-width="1.4" stroke-linejoin="miter" stroke-miterlimit="2"/>
<rect x="307.6" y="334.4" width="200.4" height="98.0" fill="none" stroke="#0a0a0a" stroke-width="1.6"/>
<path d="M307.6 333.59999999999997V433.5" fill="none" stroke="#0a0a0a" stroke-width="2"/>
<path d="M306.6 432.4H508.8" fill="none" stroke="#0a0a0a" stroke-width="2.3"/>
<path d="M301.6 334.40H307.6M304.0 340.52H307.6M304.0 346.65H307.6M304.0 352.77H307.6M301.6 358.90H307.6M304.0 365.02H307.6M304.0 371.15H307.6M304.0 377.27H307.6M301.6 383.40H307.6M304.0 389.52H307.6M304.0 395.65H307.6M304.0 401.77H307.6M301.6 407.90H307.6M304.0 414.02H307.6M304.0 420.15H307.6M304.0 426.27H307.6M301.6 432.40H307.6" stroke="#0a0a0a" stroke-width="1.3" fill="none"/>
<text x="299.3" y="337.1" font-size="10" text-anchor="end">133</text>
<text x="299.3" y="361.6" font-size="10" text-anchor="end">100</text>
<text x="299.3" y="386.1" font-size="10" text-anchor="end">67</text>
<text x="299.3" y="410.6" font-size="10" text-anchor="end">33</text>
<text x="299.3" y="435.1" font-size="10" text-anchor="end">0</text>
<path d="M307.60 432.4V438.0M322.68 432.4V436.4M331.50 432.4V436.4M337.76 432.4V436.4M342.62 432.4V436.4M346.59 432.4V436.4M349.94 432.4V436.4M352.84 432.4V436.4M355.41 432.4V436.4M357.70 432.4V438.0M372.78 432.4V436.4M381.60 432.4V436.4M387.86 432.4V436.4M392.72 432.4V436.4M396.69 432.4V436.4M400.04 432.4V436.4M402.94 432.4V436.4M405.51 432.4V436.4M407.80 432.4V438.0M422.88 432.4V436.4M431.70 432.4V436.4M437.96 432.4V436.4M442.82 432.4V436.4M446.79 432.4V436.4M450.14 432.4V436.4M453.04 432.4V436.4M455.61 432.4V436.4M457.90 432.4V438.0M472.98 432.4V436.4M481.80 432.4V436.4M488.06 432.4V436.4M492.92 432.4V436.4M496.89 432.4V436.4M500.24 432.4V436.4M503.14 432.4V436.4M505.71 432.4V436.4M508.00 432.4V438.0" stroke="#0a0a0a" stroke-width="1.3" fill="none"/>
<text x="301.9" y="453.8" font-size="10.4" text-anchor="middle">10</text>
<text x="308.8" y="450.4" font-size="9.8" text-anchor="start">0</text>
<text x="354.5" y="453.8" font-size="10.4" text-anchor="middle">10</text>
<text x="361.3" y="450.4" font-size="9.8" text-anchor="start">1</text>
<text x="403.6" y="453.8" font-size="10.4" text-anchor="middle">10</text>
<text x="410.4" y="450.4" font-size="9.8" text-anchor="start">2</text>
<text x="455.2" y="453.8" font-size="10.4" text-anchor="middle">10</text>
<text x="460.9" y="450.4" font-size="9.8" text-anchor="start">3</text>
<text x="501.7" y="453.8" font-size="10.4" text-anchor="middle">10</text>
<text x="508.5" y="450.4" font-size="9.8" text-anchor="start">4</text>
<text x="411.4" y="328.5" font-size="10.5" font-weight="bold" text-anchor="middle">Mouse Macrophages</text>
<text transform="translate(275.8 386.9) rotate(-90)" font-size="10.4" text-anchor="middle">Fluorescence</text>
<text x="410.3" y="469.8" font-size="10" text-anchor="middle">CD68</text>
<line x1="63.8" y1="348.1" x2="94.6" y2="348.1" stroke="#0a0a0a" stroke-width="2.4"/>
<line x1="63.8" y1="364.6" x2="94.6" y2="364.6" stroke="#808080" stroke-width="2.1"/>
<text x="105.3" y="348.8" font-size="10.3" text-anchor="start">Isotype</text>
<text x="105.3" y="367.3" font-size="10.4" text-anchor="start">CD68</text>
</svg>
</body></html>
